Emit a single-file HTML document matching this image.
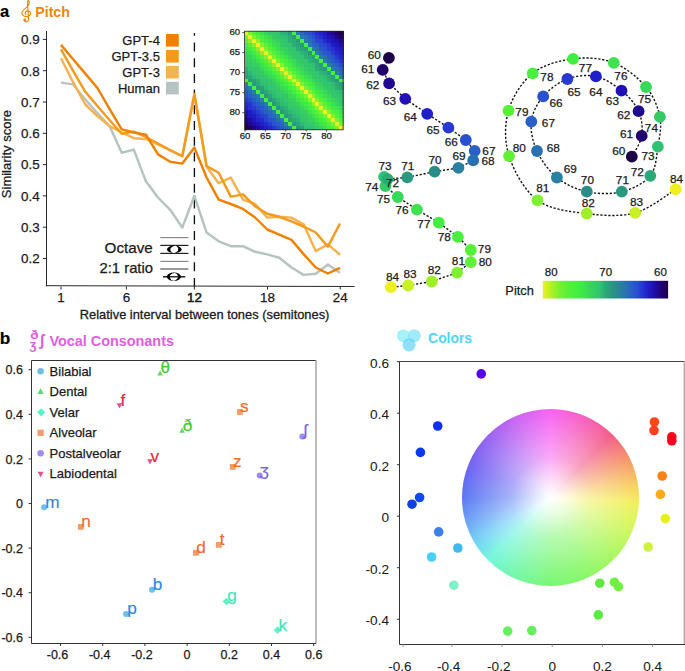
<!DOCTYPE html>
<html><head><meta charset="utf-8"><style>
html,body{margin:0;padding:0;background:#fff;}
body{width:685px;height:671px;position:relative;overflow:hidden;font-family:"Liberation Sans",sans-serif;}
#wheel{position:absolute;left:462.1px;top:409px;width:177px;height:177px;border-radius:50%;
background:radial-gradient(circle closest-side,#fff 0%,rgba(255,255,255,.85) 15%,rgba(255,255,255,.45) 45%,rgba(255,255,255,0) 100%),
conic-gradient(from 0deg,#f862f2 0deg,#f65fb8 25deg,#f25e86 45deg,#f5906a 62deg,#f7c460 78deg,#f3ef5a 93deg,#d4f65b 110deg,#aef760 130deg,#88f766 155deg,#78f772 180deg,#72f7a8 205deg,#72f5dc 225deg,#70d0f6 240deg,#6a9ef6 255deg,#5a78f2 270deg,#6c62f2 290deg,#9a62f2 315deg,#cc62f2 338deg,#f862f2 360deg);}
svg{position:absolute;left:0;top:0;}
</style></head><body>
<div id="wheel"></div>
<svg width="685" height="671" viewBox="0 0 685 671" font-family="Liberation Sans, sans-serif">
<text x="0.0" y="17.0" font-size="16.5" text-anchor="start" fill="#000" stroke="#000" stroke-width="0.2" font-weight="bold" >a</text>
<text x="35.3" y="17.0" font-size="15.4" text-anchor="start" fill="#f0850c" font-weight="bold"  textLength="34.5" lengthAdjust="spacingAndGlyphs">Pitch</text>
<g fill="none" stroke="#f0850c" stroke-width="1.15" stroke-linecap="round"><path d="M24.3 20.6 C25.2 22.4 28.6 22.3 28.5 19.4 L27.5 3.6 C27.4 1.6 28.0 0.3 28.4 0.5 C29.4 1.2 29.7 3.9 27.7 6.4 C24.8 9.2 21.9 10.8 21.9 13.3 C21.9 15.6 24.3 16.6 26.6 16.5 C29.4 16.4 30.8 14.8 30.6 13.0 C30.4 11.3 28.6 10.6 27.2 10.9 C25.3 11.4 24.6 13.4 25.9 14.6"/></g>
<circle cx="24.8" cy="20.0" r="1.45" fill="#f0850c"/>
<line x1="46.5" y1="31" x2="46.5" y2="286.5" stroke="#2a2a2a" stroke-width="1"/>
<line x1="46.5" y1="285.7" x2="354.6" y2="286.5" stroke="#2a2a2a" stroke-width="1"/>
<line x1="42.8" y1="258.5" x2="46.5" y2="258.5" stroke="#2a2a2a" stroke-width="1"/>
<text x="39.7" y="263.3" font-size="13.4" text-anchor="end" fill="#1a1a1a" stroke="#1a1a1a" stroke-width="0.25" font-weight="normal" >0.2</text>
<line x1="42.8" y1="227.2" x2="46.5" y2="227.2" stroke="#2a2a2a" stroke-width="1"/>
<text x="39.7" y="232.0" font-size="13.4" text-anchor="end" fill="#1a1a1a" stroke="#1a1a1a" stroke-width="0.25" font-weight="normal" >0.3</text>
<line x1="42.8" y1="195.9" x2="46.5" y2="195.9" stroke="#2a2a2a" stroke-width="1"/>
<text x="39.7" y="200.7" font-size="13.4" text-anchor="end" fill="#1a1a1a" stroke="#1a1a1a" stroke-width="0.25" font-weight="normal" >0.4</text>
<line x1="42.8" y1="164.6" x2="46.5" y2="164.6" stroke="#2a2a2a" stroke-width="1"/>
<text x="39.7" y="169.4" font-size="13.4" text-anchor="end" fill="#1a1a1a" stroke="#1a1a1a" stroke-width="0.25" font-weight="normal" >0.5</text>
<line x1="42.8" y1="133.3" x2="46.5" y2="133.3" stroke="#2a2a2a" stroke-width="1"/>
<text x="39.7" y="138.1" font-size="13.4" text-anchor="end" fill="#1a1a1a" stroke="#1a1a1a" stroke-width="0.25" font-weight="normal" >0.6</text>
<line x1="42.8" y1="102.0" x2="46.5" y2="102.0" stroke="#2a2a2a" stroke-width="1"/>
<text x="39.7" y="106.8" font-size="13.4" text-anchor="end" fill="#1a1a1a" stroke="#1a1a1a" stroke-width="0.25" font-weight="normal" >0.7</text>
<line x1="42.8" y1="70.7" x2="46.5" y2="70.7" stroke="#2a2a2a" stroke-width="1"/>
<text x="39.7" y="75.5" font-size="13.4" text-anchor="end" fill="#1a1a1a" stroke="#1a1a1a" stroke-width="0.25" font-weight="normal" >0.8</text>
<line x1="42.8" y1="39.4" x2="46.5" y2="39.4" stroke="#2a2a2a" stroke-width="1"/>
<text x="39.7" y="44.2" font-size="13.4" text-anchor="end" fill="#1a1a1a" stroke="#1a1a1a" stroke-width="0.25" font-weight="normal" >0.9</text>
<line x1="61" y1="286.5" x2="61" y2="289.5" stroke="#2a2a2a" stroke-width="1"/>
<text x="61.0" y="302.0" font-size="13.4" text-anchor="middle" fill="#1a1a1a" stroke="#1a1a1a" stroke-width="0.25" font-weight="normal" >1</text>
<line x1="126.4" y1="286.5" x2="126.4" y2="289.5" stroke="#2a2a2a" stroke-width="1"/>
<text x="126.4" y="302.0" font-size="13.4" text-anchor="middle" fill="#1a1a1a" stroke="#1a1a1a" stroke-width="0.25" font-weight="normal" >6</text>
<line x1="194.4" y1="286.5" x2="194.4" y2="289.5" stroke="#2a2a2a" stroke-width="1"/>
<text x="194.4" y="302.0" font-size="13.4" text-anchor="middle" fill="#1a1a1a" stroke="#1a1a1a" stroke-width="0.55" font-weight="normal" >12</text>
<line x1="267.5" y1="286.5" x2="267.5" y2="289.5" stroke="#2a2a2a" stroke-width="1"/>
<text x="267.5" y="302.0" font-size="13.4" text-anchor="middle" fill="#1a1a1a" stroke="#1a1a1a" stroke-width="0.25" font-weight="normal" >18</text>
<line x1="340.2" y1="286.5" x2="340.2" y2="289.5" stroke="#2a2a2a" stroke-width="1"/>
<text x="340.2" y="302.0" font-size="13.4" text-anchor="middle" fill="#1a1a1a" stroke="#1a1a1a" stroke-width="0.25" font-weight="normal" >24</text>
<text x="204.6" y="318.6" font-size="13.4" text-anchor="middle" fill="#1a1a1a" stroke="#1a1a1a" stroke-width="0.3" font-weight="normal"  textLength="249.6" lengthAdjust="spacingAndGlyphs">Relative interval between tones (semitones)</text>
<text x="11.4" y="154.1" font-size="13" text-anchor="middle" fill="#1a1a1a" stroke="#1a1a1a" stroke-width="0.25" transform="rotate(-90 11.4 154.1)">Similarity score</text>
<line x1="160.3" y1="237.6" x2="188.4" y2="237.6" stroke="#8a8a8a" stroke-width="1.2"/>
<line x1="160.3" y1="245.4" x2="188.4" y2="245.4" stroke="#222" stroke-width="1.2"/>
<line x1="160.3" y1="253.4" x2="188.4" y2="253.4" stroke="#222" stroke-width="1.2"/>
<line x1="160.3" y1="261.4" x2="188.4" y2="261.4" stroke="#8a8a8a" stroke-width="1.2"/>
<line x1="160.3" y1="269.0" x2="188.4" y2="269.0" stroke="#555" stroke-width="1.2"/>
<line x1="163" y1="276.8" x2="185.2" y2="276.8" stroke="#111" stroke-width="1.4"/>
<ellipse cx="174.3" cy="249.4" rx="7.3" ry="3.8" fill="#000"/>
<ellipse cx="174.3" cy="249.4" rx="4.0" ry="3.3" fill="#fff" transform="rotate(-25 174.3 249.4)"/>
<ellipse cx="173.9" cy="276.8" rx="7.0" ry="4.2" fill="#000"/>
<ellipse cx="173.9" cy="276.8" rx="4.0" ry="3.7" fill="#fff" transform="rotate(-25 173.9 276.8)"/>
<line x1="169" y1="276.8" x2="179" y2="276.8" stroke="#111" stroke-width="1.3"/>
<text x="152.7" y="252.9" font-size="15.2" text-anchor="end" fill="#1a1a1a" stroke="#1a1a1a" stroke-width="0.25" font-weight="normal" >Octave</text>
<text x="153.0" y="273.0" font-size="14.8" text-anchor="end" fill="#1a1a1a" stroke="#1a1a1a" stroke-width="0.25" font-weight="normal" >2:1 ratio</text>
<line x1="194.4" y1="33" x2="194.4" y2="286.5" stroke="#111" stroke-width="1.35" stroke-dasharray="9 6.7" stroke-dashoffset="6.2"/>
<polyline points="61.0,82.6 73.1,84.4 85.3,99.5 97.4,113.0 109.5,126.0 121.7,152.7 133.8,149.6 145.9,181.2 158.0,197.5 170.2,209.8 182.3,227.6 194.4,195.8 206.6,232.6 218.7,241.3 230.8,246.2 243.0,246.2 255.1,251.8 267.2,254.4 279.3,257.8 291.5,267.5 303.6,274.9 315.7,273.8 327.9,264.5 340.0,272.7" fill="none" stroke="#b6c4c1" stroke-width="2.45" stroke-linejoin="round"/>
<polyline points="61.0,58.3 73.1,82.2 85.3,104.5 97.4,116.0 109.5,126.0 121.7,132.5 133.8,138.2 145.9,139.0 158.0,144.5 170.2,150.5 182.3,156.5 194.4,94.2 206.6,166.8 218.7,183.2 230.8,177.6 243.0,199.6 255.1,204.0 267.2,217.6 279.3,216.8 291.5,217.6 303.6,224.3 315.7,251.1 327.9,244.4 340.0,254.8" fill="none" stroke="#f4b350" stroke-width="2.45" stroke-linejoin="round"/>
<polyline points="61.0,49.4 73.1,70.9 85.3,91.8 97.4,106.0 109.5,120.0 121.7,133.8 133.8,131.6 145.9,137.0 158.0,143.5 170.2,150.0 182.3,156.0 194.4,94.2 206.6,166.1 218.7,172.8 230.8,196.6 243.0,194.4 255.1,206.3 267.2,213.8 279.3,216.8 291.5,221.3 303.6,226.5 315.7,232.5 327.9,246.6 340.0,223.5" fill="none" stroke="#f39b1f" stroke-width="2.45" stroke-linejoin="round"/>
<polyline points="61.0,44.9 73.1,59.2 85.3,73.6 97.4,88.0 109.5,108.9 121.7,129.4 133.8,132.5 145.9,134.7 158.0,154.4 170.2,161.8 182.3,163.6 194.4,147.6 206.6,177.5 218.7,199.6 230.8,204.0 243.0,208.9 255.1,217.5 267.2,229.5 279.3,234.7 291.5,239.9 303.6,254.1 315.7,267.5 327.9,273.5 340.0,267.8" fill="none" stroke="#ef8100" stroke-width="2.45" stroke-linejoin="round"/>
<rect x="166" y="34.0" width="12.8" height="12.6" fill="#ef8100"/>
<text x="159.9" y="44.9" font-size="13" text-anchor="end" fill="#1a1a1a" stroke="#1a1a1a" stroke-width="0.25" font-weight="normal" >GPT-4</text>
<rect x="166" y="50.0" width="12.8" height="12.6" fill="#f39b1f"/>
<text x="159.9" y="60.9" font-size="13" text-anchor="end" fill="#1a1a1a" stroke="#1a1a1a" stroke-width="0.25" font-weight="normal" >GPT-3.5</text>
<rect x="166" y="65.9" width="12.8" height="12.6" fill="#f4b350"/>
<text x="159.9" y="76.8" font-size="13" text-anchor="end" fill="#1a1a1a" stroke="#1a1a1a" stroke-width="0.25" font-weight="normal" >GPT-3</text>
<rect x="166" y="81.8" width="12.8" height="12.6" fill="#b6c4c1"/>
<text x="159.9" y="92.8" font-size="13" text-anchor="end" fill="#1a1a1a" stroke="#1a1a1a" stroke-width="0.25" font-weight="normal" >Human</text>
<g shape-rendering="crispEdges">
<rect x="244.50" y="31.20" width="4.54" height="4.54" fill="#e9f021"/>
<rect x="248.44" y="31.20" width="4.54" height="4.54" fill="#85f02f"/>
<rect x="252.39" y="31.20" width="4.54" height="4.54" fill="#55f039"/>
<rect x="256.33" y="31.20" width="4.54" height="4.54" fill="#41ee40"/>
<rect x="260.28" y="31.20" width="4.54" height="4.54" fill="#3ee14f"/>
<rect x="264.22" y="31.20" width="4.54" height="4.54" fill="#36d25e"/>
<rect x="268.16" y="31.20" width="4.54" height="4.54" fill="#34c869"/>
<rect x="272.11" y="31.20" width="4.54" height="4.54" fill="#34c869"/>
<rect x="276.05" y="31.20" width="4.54" height="4.54" fill="#30c372"/>
<rect x="280.00" y="31.20" width="4.54" height="4.54" fill="#2cb275"/>
<rect x="283.94" y="31.20" width="4.54" height="4.54" fill="#2bb075"/>
<rect x="287.88" y="31.20" width="4.54" height="4.54" fill="#2a9b7f"/>
<rect x="291.83" y="31.20" width="4.54" height="4.54" fill="#46f03e"/>
<rect x="295.77" y="31.20" width="4.54" height="4.54" fill="#2a7ea2"/>
<rect x="299.72" y="31.20" width="4.54" height="4.54" fill="#286db5"/>
<rect x="303.66" y="31.20" width="4.54" height="4.54" fill="#2857cc"/>
<rect x="307.60" y="31.20" width="4.54" height="4.54" fill="#284fd0"/>
<rect x="311.55" y="31.20" width="4.54" height="4.54" fill="#2842d0"/>
<rect x="315.49" y="31.20" width="4.54" height="4.54" fill="#252ecd"/>
<rect x="319.44" y="31.20" width="4.54" height="4.54" fill="#2123c9"/>
<rect x="323.38" y="31.20" width="4.54" height="4.54" fill="#2018c0"/>
<rect x="327.32" y="31.20" width="4.54" height="4.54" fill="#200b9d"/>
<rect x="331.27" y="31.20" width="4.54" height="4.54" fill="#20078c"/>
<rect x="335.21" y="31.20" width="4.54" height="4.54" fill="#200065"/>
<rect x="339.16" y="31.20" width="4.54" height="4.54" fill="#1e0048"/>
<rect x="244.50" y="35.14" width="4.54" height="4.54" fill="#7af031"/>
<rect x="248.44" y="35.14" width="4.54" height="4.54" fill="#f0f020"/>
<rect x="252.39" y="35.14" width="4.54" height="4.54" fill="#83f02f"/>
<rect x="256.33" y="35.14" width="4.54" height="4.54" fill="#58f038"/>
<rect x="260.28" y="35.14" width="4.54" height="4.54" fill="#43ef3f"/>
<rect x="264.22" y="35.14" width="4.54" height="4.54" fill="#3ee24e"/>
<rect x="268.16" y="35.14" width="4.54" height="4.54" fill="#39da56"/>
<rect x="272.11" y="35.14" width="4.54" height="4.54" fill="#35ca66"/>
<rect x="276.05" y="35.14" width="4.54" height="4.54" fill="#33c769"/>
<rect x="280.00" y="35.14" width="4.54" height="4.54" fill="#30c471"/>
<rect x="283.94" y="35.14" width="4.54" height="4.54" fill="#2fbf73"/>
<rect x="287.88" y="35.14" width="4.54" height="4.54" fill="#2bae75"/>
<rect x="291.83" y="35.14" width="4.54" height="4.54" fill="#2a9781"/>
<rect x="295.77" y="35.14" width="4.54" height="4.54" fill="#42ef3f"/>
<rect x="299.72" y="35.14" width="4.54" height="4.54" fill="#297ba5"/>
<rect x="303.66" y="35.14" width="4.54" height="4.54" fill="#2870b0"/>
<rect x="307.60" y="35.14" width="4.54" height="4.54" fill="#285bcb"/>
<rect x="311.55" y="35.14" width="4.54" height="4.54" fill="#284fd0"/>
<rect x="315.49" y="35.14" width="4.54" height="4.54" fill="#2839d0"/>
<rect x="319.44" y="35.14" width="4.54" height="4.54" fill="#252ecd"/>
<rect x="323.38" y="35.14" width="4.54" height="4.54" fill="#201ec6"/>
<rect x="327.32" y="35.14" width="4.54" height="4.54" fill="#2014bc"/>
<rect x="331.27" y="35.14" width="4.54" height="4.54" fill="#200eac"/>
<rect x="335.21" y="35.14" width="4.54" height="4.54" fill="#200687"/>
<rect x="339.16" y="35.14" width="4.54" height="4.54" fill="#20006e"/>
<rect x="244.50" y="39.09" width="4.54" height="4.54" fill="#58f038"/>
<rect x="248.44" y="39.09" width="4.54" height="4.54" fill="#8ef02d"/>
<rect x="252.39" y="39.09" width="4.54" height="4.54" fill="#f0f020"/>
<rect x="256.33" y="39.09" width="4.54" height="4.54" fill="#8ff02c"/>
<rect x="260.28" y="39.09" width="4.54" height="4.54" fill="#57f038"/>
<rect x="264.22" y="39.09" width="4.54" height="4.54" fill="#40ec43"/>
<rect x="268.16" y="39.09" width="4.54" height="4.54" fill="#3ee34d"/>
<rect x="272.11" y="39.09" width="4.54" height="4.54" fill="#39da56"/>
<rect x="276.05" y="39.09" width="4.54" height="4.54" fill="#36d060"/>
<rect x="280.00" y="39.09" width="4.54" height="4.54" fill="#33c76b"/>
<rect x="283.94" y="39.09" width="4.54" height="4.54" fill="#31c56f"/>
<rect x="287.88" y="39.09" width="4.54" height="4.54" fill="#2cb175"/>
<rect x="291.83" y="39.09" width="4.54" height="4.54" fill="#2bad76"/>
<rect x="295.77" y="39.09" width="4.54" height="4.54" fill="#2a9c7e"/>
<rect x="299.72" y="39.09" width="4.54" height="4.54" fill="#43ef3f"/>
<rect x="303.66" y="39.09" width="4.54" height="4.54" fill="#2979a7"/>
<rect x="307.60" y="39.09" width="4.54" height="4.54" fill="#286fb1"/>
<rect x="311.55" y="39.09" width="4.54" height="4.54" fill="#2861c6"/>
<rect x="315.49" y="39.09" width="4.54" height="4.54" fill="#2846d0"/>
<rect x="319.44" y="39.09" width="4.54" height="4.54" fill="#2841d0"/>
<rect x="323.38" y="39.09" width="4.54" height="4.54" fill="#242ccc"/>
<rect x="327.32" y="39.09" width="4.54" height="4.54" fill="#201bc3"/>
<rect x="331.27" y="39.09" width="4.54" height="4.54" fill="#2013bb"/>
<rect x="335.21" y="39.09" width="4.54" height="4.54" fill="#200fb1"/>
<rect x="339.16" y="39.09" width="4.54" height="4.54" fill="#20088e"/>
<rect x="244.50" y="43.03" width="4.54" height="4.54" fill="#3feb44"/>
<rect x="248.44" y="43.03" width="4.54" height="4.54" fill="#57f038"/>
<rect x="252.39" y="43.03" width="4.54" height="4.54" fill="#7af031"/>
<rect x="256.33" y="43.03" width="4.54" height="4.54" fill="#f0f020"/>
<rect x="260.28" y="43.03" width="4.54" height="4.54" fill="#80f030"/>
<rect x="264.22" y="43.03" width="4.54" height="4.54" fill="#59f037"/>
<rect x="268.16" y="43.03" width="4.54" height="4.54" fill="#43ef3f"/>
<rect x="272.11" y="43.03" width="4.54" height="4.54" fill="#3de050"/>
<rect x="276.05" y="43.03" width="4.54" height="4.54" fill="#39da56"/>
<rect x="280.00" y="43.03" width="4.54" height="4.54" fill="#34ca66"/>
<rect x="283.94" y="43.03" width="4.54" height="4.54" fill="#31c56f"/>
<rect x="287.88" y="43.03" width="4.54" height="4.54" fill="#31c570"/>
<rect x="291.83" y="43.03" width="4.54" height="4.54" fill="#2bae75"/>
<rect x="295.77" y="43.03" width="4.54" height="4.54" fill="#2aa479"/>
<rect x="299.72" y="43.03" width="4.54" height="4.54" fill="#2a9a7f"/>
<rect x="303.66" y="43.03" width="4.54" height="4.54" fill="#45ef3f"/>
<rect x="307.60" y="43.03" width="4.54" height="4.54" fill="#297aa6"/>
<rect x="311.55" y="43.03" width="4.54" height="4.54" fill="#2866c0"/>
<rect x="315.49" y="43.03" width="4.54" height="4.54" fill="#2860c8"/>
<rect x="319.44" y="43.03" width="4.54" height="4.54" fill="#284ad0"/>
<rect x="323.38" y="43.03" width="4.54" height="4.54" fill="#2844d0"/>
<rect x="327.32" y="43.03" width="4.54" height="4.54" fill="#2734cf"/>
<rect x="331.27" y="43.03" width="4.54" height="4.54" fill="#201ec6"/>
<rect x="335.21" y="43.03" width="4.54" height="4.54" fill="#2015bd"/>
<rect x="339.16" y="43.03" width="4.54" height="4.54" fill="#200daa"/>
<rect x="244.50" y="46.98" width="4.54" height="4.54" fill="#3ee14f"/>
<rect x="248.44" y="46.98" width="4.54" height="4.54" fill="#41ee40"/>
<rect x="252.39" y="46.98" width="4.54" height="4.54" fill="#56f038"/>
<rect x="256.33" y="46.98" width="4.54" height="4.54" fill="#87f02e"/>
<rect x="260.28" y="46.98" width="4.54" height="4.54" fill="#f0f020"/>
<rect x="264.22" y="46.98" width="4.54" height="4.54" fill="#84f02f"/>
<rect x="268.16" y="46.98" width="4.54" height="4.54" fill="#55f038"/>
<rect x="272.11" y="46.98" width="4.54" height="4.54" fill="#42ee40"/>
<rect x="276.05" y="46.98" width="4.54" height="4.54" fill="#3cde52"/>
<rect x="280.00" y="46.98" width="4.54" height="4.54" fill="#37d45c"/>
<rect x="283.94" y="46.98" width="4.54" height="4.54" fill="#36d15f"/>
<rect x="287.88" y="46.98" width="4.54" height="4.54" fill="#33c76c"/>
<rect x="291.83" y="46.98" width="4.54" height="4.54" fill="#31c570"/>
<rect x="295.77" y="46.98" width="4.54" height="4.54" fill="#2bad75"/>
<rect x="299.72" y="46.98" width="4.54" height="4.54" fill="#2aa778"/>
<rect x="303.66" y="46.98" width="4.54" height="4.54" fill="#2a9c7e"/>
<rect x="307.60" y="46.98" width="4.54" height="4.54" fill="#41ee40"/>
<rect x="311.55" y="46.98" width="4.54" height="4.54" fill="#2a7fa1"/>
<rect x="315.49" y="46.98" width="4.54" height="4.54" fill="#286cb5"/>
<rect x="319.44" y="46.98" width="4.54" height="4.54" fill="#2856cd"/>
<rect x="323.38" y="46.98" width="4.54" height="4.54" fill="#284fd0"/>
<rect x="327.32" y="46.98" width="4.54" height="4.54" fill="#283bd0"/>
<rect x="331.27" y="46.98" width="4.54" height="4.54" fill="#2631ce"/>
<rect x="335.21" y="46.98" width="4.54" height="4.54" fill="#201ec6"/>
<rect x="339.16" y="46.98" width="4.54" height="4.54" fill="#2018c0"/>
<rect x="244.50" y="50.92" width="4.54" height="4.54" fill="#38d957"/>
<rect x="248.44" y="50.92" width="4.54" height="4.54" fill="#3bdd53"/>
<rect x="252.39" y="50.92" width="4.54" height="4.54" fill="#3feb44"/>
<rect x="256.33" y="50.92" width="4.54" height="4.54" fill="#57f038"/>
<rect x="260.28" y="50.92" width="4.54" height="4.54" fill="#8ef02c"/>
<rect x="264.22" y="50.92" width="4.54" height="4.54" fill="#e9f021"/>
<rect x="268.16" y="50.92" width="4.54" height="4.54" fill="#83f02f"/>
<rect x="272.11" y="50.92" width="4.54" height="4.54" fill="#57f038"/>
<rect x="276.05" y="50.92" width="4.54" height="4.54" fill="#40ed41"/>
<rect x="280.00" y="50.92" width="4.54" height="4.54" fill="#3cdf51"/>
<rect x="283.94" y="50.92" width="4.54" height="4.54" fill="#37d45c"/>
<rect x="287.88" y="50.92" width="4.54" height="4.54" fill="#35ca66"/>
<rect x="291.83" y="50.92" width="4.54" height="4.54" fill="#33c76b"/>
<rect x="295.77" y="50.92" width="4.54" height="4.54" fill="#30c372"/>
<rect x="299.72" y="50.92" width="4.54" height="4.54" fill="#2cb574"/>
<rect x="303.66" y="50.92" width="4.54" height="4.54" fill="#2aac76"/>
<rect x="307.60" y="50.92" width="4.54" height="4.54" fill="#2a9681"/>
<rect x="311.55" y="50.92" width="4.54" height="4.54" fill="#45ef3f"/>
<rect x="315.49" y="50.92" width="4.54" height="4.54" fill="#2a819f"/>
<rect x="319.44" y="50.92" width="4.54" height="4.54" fill="#2869bb"/>
<rect x="323.38" y="50.92" width="4.54" height="4.54" fill="#2858cc"/>
<rect x="327.32" y="50.92" width="4.54" height="4.54" fill="#2852cf"/>
<rect x="331.27" y="50.92" width="4.54" height="4.54" fill="#2838d0"/>
<rect x="335.21" y="50.92" width="4.54" height="4.54" fill="#2328cb"/>
<rect x="339.16" y="50.92" width="4.54" height="4.54" fill="#201ec6"/>
<rect x="244.50" y="54.86" width="4.54" height="4.54" fill="#35ce62"/>
<rect x="248.44" y="54.86" width="4.54" height="4.54" fill="#36d25e"/>
<rect x="252.39" y="54.86" width="4.54" height="4.54" fill="#3cdf51"/>
<rect x="256.33" y="54.86" width="4.54" height="4.54" fill="#40ed41"/>
<rect x="260.28" y="54.86" width="4.54" height="4.54" fill="#59f038"/>
<rect x="264.22" y="54.86" width="4.54" height="4.54" fill="#82f02f"/>
<rect x="268.16" y="54.86" width="4.54" height="4.54" fill="#f0f020"/>
<rect x="272.11" y="54.86" width="4.54" height="4.54" fill="#7cf031"/>
<rect x="276.05" y="54.86" width="4.54" height="4.54" fill="#54f039"/>
<rect x="280.00" y="54.86" width="4.54" height="4.54" fill="#41ee40"/>
<rect x="283.94" y="54.86" width="4.54" height="4.54" fill="#3ee34c"/>
<rect x="287.88" y="54.86" width="4.54" height="4.54" fill="#37d65a"/>
<rect x="291.83" y="54.86" width="4.54" height="4.54" fill="#34c967"/>
<rect x="295.77" y="54.86" width="4.54" height="4.54" fill="#31c56f"/>
<rect x="299.72" y="54.86" width="4.54" height="4.54" fill="#31c571"/>
<rect x="303.66" y="54.86" width="4.54" height="4.54" fill="#2cb175"/>
<rect x="307.60" y="54.86" width="4.54" height="4.54" fill="#2bad76"/>
<rect x="311.55" y="54.86" width="4.54" height="4.54" fill="#2a9f7c"/>
<rect x="315.49" y="54.86" width="4.54" height="4.54" fill="#42ef3f"/>
<rect x="319.44" y="54.86" width="4.54" height="4.54" fill="#297ca4"/>
<rect x="323.38" y="54.86" width="4.54" height="4.54" fill="#286fb2"/>
<rect x="327.32" y="54.86" width="4.54" height="4.54" fill="#285dc9"/>
<rect x="331.27" y="54.86" width="4.54" height="4.54" fill="#2852cf"/>
<rect x="335.21" y="54.86" width="4.54" height="4.54" fill="#2839d0"/>
<rect x="339.16" y="54.86" width="4.54" height="4.54" fill="#2227ca"/>
<rect x="244.50" y="58.81" width="4.54" height="4.54" fill="#32c66d"/>
<rect x="248.44" y="58.81" width="4.54" height="4.54" fill="#36cf61"/>
<rect x="252.39" y="58.81" width="4.54" height="4.54" fill="#37d45c"/>
<rect x="256.33" y="58.81" width="4.54" height="4.54" fill="#3cdf51"/>
<rect x="260.28" y="58.81" width="4.54" height="4.54" fill="#40ee40"/>
<rect x="264.22" y="58.81" width="4.54" height="4.54" fill="#55f038"/>
<rect x="268.16" y="58.81" width="4.54" height="4.54" fill="#82f030"/>
<rect x="272.11" y="58.81" width="4.54" height="4.54" fill="#f0f020"/>
<rect x="276.05" y="58.81" width="4.54" height="4.54" fill="#7cf031"/>
<rect x="280.00" y="58.81" width="4.54" height="4.54" fill="#51f03a"/>
<rect x="283.94" y="58.81" width="4.54" height="4.54" fill="#43ef3f"/>
<rect x="287.88" y="58.81" width="4.54" height="4.54" fill="#3ee34c"/>
<rect x="291.83" y="58.81" width="4.54" height="4.54" fill="#39da56"/>
<rect x="295.77" y="58.81" width="4.54" height="4.54" fill="#35cb65"/>
<rect x="299.72" y="58.81" width="4.54" height="4.54" fill="#34c868"/>
<rect x="303.66" y="58.81" width="4.54" height="4.54" fill="#32c66e"/>
<rect x="307.60" y="58.81" width="4.54" height="4.54" fill="#2cb275"/>
<rect x="311.55" y="58.81" width="4.54" height="4.54" fill="#2aac76"/>
<rect x="315.49" y="58.81" width="4.54" height="4.54" fill="#2a9f7c"/>
<rect x="319.44" y="58.81" width="4.54" height="4.54" fill="#45ef3f"/>
<rect x="323.38" y="58.81" width="4.54" height="4.54" fill="#2a7ea2"/>
<rect x="327.32" y="58.81" width="4.54" height="4.54" fill="#2868bb"/>
<rect x="331.27" y="58.81" width="4.54" height="4.54" fill="#285acb"/>
<rect x="335.21" y="58.81" width="4.54" height="4.54" fill="#2848d0"/>
<rect x="339.16" y="58.81" width="4.54" height="4.54" fill="#2735cf"/>
<rect x="244.50" y="62.75" width="4.54" height="4.54" fill="#31c570"/>
<rect x="248.44" y="62.75" width="4.54" height="4.54" fill="#32c66d"/>
<rect x="252.39" y="62.75" width="4.54" height="4.54" fill="#36cf61"/>
<rect x="256.33" y="62.75" width="4.54" height="4.54" fill="#36d15f"/>
<rect x="260.28" y="62.75" width="4.54" height="4.54" fill="#3ee34c"/>
<rect x="264.22" y="62.75" width="4.54" height="4.54" fill="#41ee40"/>
<rect x="268.16" y="62.75" width="4.54" height="4.54" fill="#5af037"/>
<rect x="272.11" y="62.75" width="4.54" height="4.54" fill="#8df02d"/>
<rect x="276.05" y="62.75" width="4.54" height="4.54" fill="#f0f020"/>
<rect x="280.00" y="62.75" width="4.54" height="4.54" fill="#86f02f"/>
<rect x="283.94" y="62.75" width="4.54" height="4.54" fill="#51f03a"/>
<rect x="287.88" y="62.75" width="4.54" height="4.54" fill="#42ee40"/>
<rect x="291.83" y="62.75" width="4.54" height="4.54" fill="#3cde52"/>
<rect x="295.77" y="62.75" width="4.54" height="4.54" fill="#37d45c"/>
<rect x="299.72" y="62.75" width="4.54" height="4.54" fill="#35cd63"/>
<rect x="303.66" y="62.75" width="4.54" height="4.54" fill="#33c76c"/>
<rect x="307.60" y="62.75" width="4.54" height="4.54" fill="#30c471"/>
<rect x="311.55" y="62.75" width="4.54" height="4.54" fill="#2fc073"/>
<rect x="315.49" y="62.75" width="4.54" height="4.54" fill="#2aa976"/>
<rect x="319.44" y="62.75" width="4.54" height="4.54" fill="#2a997f"/>
<rect x="323.38" y="62.75" width="4.54" height="4.54" fill="#43ef3f"/>
<rect x="327.32" y="62.75" width="4.54" height="4.54" fill="#2a829d"/>
<rect x="331.27" y="62.75" width="4.54" height="4.54" fill="#286bb8"/>
<rect x="335.21" y="62.75" width="4.54" height="4.54" fill="#285fc9"/>
<rect x="339.16" y="62.75" width="4.54" height="4.54" fill="#284bd0"/>
<rect x="244.50" y="66.70" width="4.54" height="4.54" fill="#2cb175"/>
<rect x="248.44" y="66.70" width="4.54" height="4.54" fill="#31c570"/>
<rect x="252.39" y="66.70" width="4.54" height="4.54" fill="#33c769"/>
<rect x="256.33" y="66.70" width="4.54" height="4.54" fill="#34c868"/>
<rect x="260.28" y="66.70" width="4.54" height="4.54" fill="#39d957"/>
<rect x="264.22" y="66.70" width="4.54" height="4.54" fill="#3ee44c"/>
<rect x="268.16" y="66.70" width="4.54" height="4.54" fill="#42ef3f"/>
<rect x="272.11" y="66.70" width="4.54" height="4.54" fill="#59f038"/>
<rect x="276.05" y="66.70" width="4.54" height="4.54" fill="#79f031"/>
<rect x="280.00" y="66.70" width="4.54" height="4.54" fill="#f0f020"/>
<rect x="283.94" y="66.70" width="4.54" height="4.54" fill="#8cf02d"/>
<rect x="287.88" y="66.70" width="4.54" height="4.54" fill="#51f03a"/>
<rect x="291.83" y="66.70" width="4.54" height="4.54" fill="#40ed42"/>
<rect x="295.77" y="66.70" width="4.54" height="4.54" fill="#3cdf51"/>
<rect x="299.72" y="66.70" width="4.54" height="4.54" fill="#38d759"/>
<rect x="303.66" y="66.70" width="4.54" height="4.54" fill="#35cb65"/>
<rect x="307.60" y="66.70" width="4.54" height="4.54" fill="#32c66c"/>
<rect x="311.55" y="66.70" width="4.54" height="4.54" fill="#31c56f"/>
<rect x="315.49" y="66.70" width="4.54" height="4.54" fill="#2bad75"/>
<rect x="319.44" y="66.70" width="4.54" height="4.54" fill="#2aa27a"/>
<rect x="323.38" y="66.70" width="4.54" height="4.54" fill="#2a9781"/>
<rect x="327.32" y="66.70" width="4.54" height="4.54" fill="#42ef3f"/>
<rect x="331.27" y="66.70" width="4.54" height="4.54" fill="#2979a7"/>
<rect x="335.21" y="66.70" width="4.54" height="4.54" fill="#2870b0"/>
<rect x="339.16" y="66.70" width="4.54" height="4.54" fill="#285fc8"/>
<rect x="244.50" y="70.64" width="4.54" height="4.54" fill="#2aa37a"/>
<rect x="248.44" y="70.64" width="4.54" height="4.54" fill="#2db774"/>
<rect x="252.39" y="70.64" width="4.54" height="4.54" fill="#30c472"/>
<rect x="256.33" y="70.64" width="4.54" height="4.54" fill="#32c66d"/>
<rect x="260.28" y="70.64" width="4.54" height="4.54" fill="#34ca66"/>
<rect x="264.22" y="70.64" width="4.54" height="4.54" fill="#38d858"/>
<rect x="268.16" y="70.64" width="4.54" height="4.54" fill="#3de14f"/>
<rect x="272.11" y="70.64" width="4.54" height="4.54" fill="#40ed41"/>
<rect x="276.05" y="70.64" width="4.54" height="4.54" fill="#53f039"/>
<rect x="280.00" y="70.64" width="4.54" height="4.54" fill="#80f030"/>
<rect x="283.94" y="70.64" width="4.54" height="4.54" fill="#e5f021"/>
<rect x="287.88" y="70.64" width="4.54" height="4.54" fill="#85f02f"/>
<rect x="291.83" y="70.64" width="4.54" height="4.54" fill="#58f038"/>
<rect x="295.77" y="70.64" width="4.54" height="4.54" fill="#40ee41"/>
<rect x="299.72" y="70.64" width="4.54" height="4.54" fill="#3bdd53"/>
<rect x="303.66" y="70.64" width="4.54" height="4.54" fill="#37d35d"/>
<rect x="307.60" y="70.64" width="4.54" height="4.54" fill="#35ca66"/>
<rect x="311.55" y="70.64" width="4.54" height="4.54" fill="#33c76b"/>
<rect x="315.49" y="70.64" width="4.54" height="4.54" fill="#31c56f"/>
<rect x="319.44" y="70.64" width="4.54" height="4.54" fill="#2cb574"/>
<rect x="323.38" y="70.64" width="4.54" height="4.54" fill="#2bad76"/>
<rect x="327.32" y="70.64" width="4.54" height="4.54" fill="#2a9d7d"/>
<rect x="331.27" y="70.64" width="4.54" height="4.54" fill="#44ef3f"/>
<rect x="335.21" y="70.64" width="4.54" height="4.54" fill="#2a7da3"/>
<rect x="339.16" y="70.64" width="4.54" height="4.54" fill="#286bb8"/>
<rect x="244.50" y="74.58" width="4.54" height="4.54" fill="#2a9e7d"/>
<rect x="248.44" y="74.58" width="4.54" height="4.54" fill="#2aa778"/>
<rect x="252.39" y="74.58" width="4.54" height="4.54" fill="#2ebb73"/>
<rect x="256.33" y="74.58" width="4.54" height="4.54" fill="#30c471"/>
<rect x="260.28" y="74.58" width="4.54" height="4.54" fill="#32c66e"/>
<rect x="264.22" y="74.58" width="4.54" height="4.54" fill="#35cc64"/>
<rect x="268.16" y="74.58" width="4.54" height="4.54" fill="#38d858"/>
<rect x="272.11" y="74.58" width="4.54" height="4.54" fill="#3bdd53"/>
<rect x="276.05" y="74.58" width="4.54" height="4.54" fill="#40ee40"/>
<rect x="280.00" y="74.58" width="4.54" height="4.54" fill="#55f038"/>
<rect x="283.94" y="74.58" width="4.54" height="4.54" fill="#8cf02d"/>
<rect x="287.88" y="74.58" width="4.54" height="4.54" fill="#f0f020"/>
<rect x="291.83" y="74.58" width="4.54" height="4.54" fill="#81f030"/>
<rect x="295.77" y="74.58" width="4.54" height="4.54" fill="#59f037"/>
<rect x="299.72" y="74.58" width="4.54" height="4.54" fill="#42ef3f"/>
<rect x="303.66" y="74.58" width="4.54" height="4.54" fill="#3cdf51"/>
<rect x="307.60" y="74.58" width="4.54" height="4.54" fill="#37d65a"/>
<rect x="311.55" y="74.58" width="4.54" height="4.54" fill="#34c868"/>
<rect x="315.49" y="74.58" width="4.54" height="4.54" fill="#33c769"/>
<rect x="319.44" y="74.58" width="4.54" height="4.54" fill="#31c570"/>
<rect x="323.38" y="74.58" width="4.54" height="4.54" fill="#2fbf73"/>
<rect x="327.32" y="74.58" width="4.54" height="4.54" fill="#2bac76"/>
<rect x="331.27" y="74.58" width="4.54" height="4.54" fill="#2a9d7d"/>
<rect x="335.21" y="74.58" width="4.54" height="4.54" fill="#46ef3f"/>
<rect x="339.16" y="74.58" width="4.54" height="4.54" fill="#2a7fa1"/>
<rect x="244.50" y="78.53" width="4.54" height="4.54" fill="#42ee40"/>
<rect x="248.44" y="78.53" width="4.54" height="4.54" fill="#2a9c7e"/>
<rect x="252.39" y="78.53" width="4.54" height="4.54" fill="#2aa17b"/>
<rect x="256.33" y="78.53" width="4.54" height="4.54" fill="#2bb075"/>
<rect x="260.28" y="78.53" width="4.54" height="4.54" fill="#31c56f"/>
<rect x="264.22" y="78.53" width="4.54" height="4.54" fill="#31c56f"/>
<rect x="268.16" y="78.53" width="4.54" height="4.54" fill="#34c869"/>
<rect x="272.11" y="78.53" width="4.54" height="4.54" fill="#36d25e"/>
<rect x="276.05" y="78.53" width="4.54" height="4.54" fill="#3ee34c"/>
<rect x="280.00" y="78.53" width="4.54" height="4.54" fill="#40ec43"/>
<rect x="283.94" y="78.53" width="4.54" height="4.54" fill="#51f03a"/>
<rect x="287.88" y="78.53" width="4.54" height="4.54" fill="#8cf02d"/>
<rect x="291.83" y="78.53" width="4.54" height="4.54" fill="#e5f021"/>
<rect x="295.77" y="78.53" width="4.54" height="4.54" fill="#8cf02d"/>
<rect x="299.72" y="78.53" width="4.54" height="4.54" fill="#57f038"/>
<rect x="303.66" y="78.53" width="4.54" height="4.54" fill="#42ef3f"/>
<rect x="307.60" y="78.53" width="4.54" height="4.54" fill="#3ee44c"/>
<rect x="311.55" y="78.53" width="4.54" height="4.54" fill="#38d759"/>
<rect x="315.49" y="78.53" width="4.54" height="4.54" fill="#36cf61"/>
<rect x="319.44" y="78.53" width="4.54" height="4.54" fill="#31c56f"/>
<rect x="323.38" y="78.53" width="4.54" height="4.54" fill="#31c56f"/>
<rect x="327.32" y="78.53" width="4.54" height="4.54" fill="#2db774"/>
<rect x="331.27" y="78.53" width="4.54" height="4.54" fill="#2aab76"/>
<rect x="335.21" y="78.53" width="4.54" height="4.54" fill="#2a9781"/>
<rect x="339.16" y="78.53" width="4.54" height="4.54" fill="#46ef3f"/>
<rect x="244.50" y="82.47" width="4.54" height="4.54" fill="#2a829b"/>
<rect x="248.44" y="82.47" width="4.54" height="4.54" fill="#42ee40"/>
<rect x="252.39" y="82.47" width="4.54" height="4.54" fill="#2a9980"/>
<rect x="256.33" y="82.47" width="4.54" height="4.54" fill="#2aa977"/>
<rect x="260.28" y="82.47" width="4.54" height="4.54" fill="#2ebd73"/>
<rect x="264.22" y="82.47" width="4.54" height="4.54" fill="#30c272"/>
<rect x="268.16" y="82.47" width="4.54" height="4.54" fill="#32c66e"/>
<rect x="272.11" y="82.47" width="4.54" height="4.54" fill="#34c967"/>
<rect x="276.05" y="82.47" width="4.54" height="4.54" fill="#38d759"/>
<rect x="280.00" y="82.47" width="4.54" height="4.54" fill="#3ee24e"/>
<rect x="283.94" y="82.47" width="4.54" height="4.54" fill="#40ee40"/>
<rect x="287.88" y="82.47" width="4.54" height="4.54" fill="#55f039"/>
<rect x="291.83" y="82.47" width="4.54" height="4.54" fill="#81f030"/>
<rect x="295.77" y="82.47" width="4.54" height="4.54" fill="#ecf020"/>
<rect x="299.72" y="82.47" width="4.54" height="4.54" fill="#82f030"/>
<rect x="303.66" y="82.47" width="4.54" height="4.54" fill="#52f03a"/>
<rect x="307.60" y="82.47" width="4.54" height="4.54" fill="#40ee40"/>
<rect x="311.55" y="82.47" width="4.54" height="4.54" fill="#3ee44c"/>
<rect x="315.49" y="82.47" width="4.54" height="4.54" fill="#37d55b"/>
<rect x="319.44" y="82.47" width="4.54" height="4.54" fill="#36ce62"/>
<rect x="323.38" y="82.47" width="4.54" height="4.54" fill="#31c56e"/>
<rect x="327.32" y="82.47" width="4.54" height="4.54" fill="#31c56f"/>
<rect x="331.27" y="82.47" width="4.54" height="4.54" fill="#2ebc73"/>
<rect x="335.21" y="82.47" width="4.54" height="4.54" fill="#2aaa76"/>
<rect x="339.16" y="82.47" width="4.54" height="4.54" fill="#2a9b7e"/>
<rect x="244.50" y="86.42" width="4.54" height="4.54" fill="#286bb8"/>
<rect x="248.44" y="86.42" width="4.54" height="4.54" fill="#2a80a0"/>
<rect x="252.39" y="86.42" width="4.54" height="4.54" fill="#46f03e"/>
<rect x="256.33" y="86.42" width="4.54" height="4.54" fill="#2a9781"/>
<rect x="260.28" y="86.42" width="4.54" height="4.54" fill="#2aa37a"/>
<rect x="264.22" y="86.42" width="4.54" height="4.54" fill="#2ebc73"/>
<rect x="268.16" y="86.42" width="4.54" height="4.54" fill="#32c66e"/>
<rect x="272.11" y="86.42" width="4.54" height="4.54" fill="#33c76c"/>
<rect x="276.05" y="86.42" width="4.54" height="4.54" fill="#35cb65"/>
<rect x="280.00" y="86.42" width="4.54" height="4.54" fill="#38d858"/>
<rect x="283.94" y="86.42" width="4.54" height="4.54" fill="#3cde52"/>
<rect x="287.88" y="86.42" width="4.54" height="4.54" fill="#40ed42"/>
<rect x="291.83" y="86.42" width="4.54" height="4.54" fill="#53f039"/>
<rect x="295.77" y="86.42" width="4.54" height="4.54" fill="#86f02f"/>
<rect x="299.72" y="86.42" width="4.54" height="4.54" fill="#ebf021"/>
<rect x="303.66" y="86.42" width="4.54" height="4.54" fill="#7ef030"/>
<rect x="307.60" y="86.42" width="4.54" height="4.54" fill="#58f038"/>
<rect x="311.55" y="86.42" width="4.54" height="4.54" fill="#43ef3f"/>
<rect x="315.49" y="86.42" width="4.54" height="4.54" fill="#3cdf51"/>
<rect x="319.44" y="86.42" width="4.54" height="4.54" fill="#38d858"/>
<rect x="323.38" y="86.42" width="4.54" height="4.54" fill="#35cb65"/>
<rect x="327.32" y="86.42" width="4.54" height="4.54" fill="#34c869"/>
<rect x="331.27" y="86.42" width="4.54" height="4.54" fill="#31c570"/>
<rect x="335.21" y="86.42" width="4.54" height="4.54" fill="#2cb275"/>
<rect x="339.16" y="86.42" width="4.54" height="4.54" fill="#2aa479"/>
<rect x="244.50" y="90.36" width="4.54" height="4.54" fill="#2856cd"/>
<rect x="248.44" y="90.36" width="4.54" height="4.54" fill="#286bb8"/>
<rect x="252.39" y="90.36" width="4.54" height="4.54" fill="#2a7da3"/>
<rect x="256.33" y="90.36" width="4.54" height="4.54" fill="#42ef3f"/>
<rect x="260.28" y="90.36" width="4.54" height="4.54" fill="#2a997f"/>
<rect x="264.22" y="90.36" width="4.54" height="4.54" fill="#2aa678"/>
<rect x="268.16" y="90.36" width="4.54" height="4.54" fill="#2ebc73"/>
<rect x="272.11" y="90.36" width="4.54" height="4.54" fill="#2fc073"/>
<rect x="276.05" y="90.36" width="4.54" height="4.54" fill="#34c868"/>
<rect x="280.00" y="90.36" width="4.54" height="4.54" fill="#35cb65"/>
<rect x="283.94" y="90.36" width="4.54" height="4.54" fill="#38d759"/>
<rect x="287.88" y="90.36" width="4.54" height="4.54" fill="#3de050"/>
<rect x="291.83" y="90.36" width="4.54" height="4.54" fill="#42ef3f"/>
<rect x="295.77" y="90.36" width="4.54" height="4.54" fill="#59f038"/>
<rect x="299.72" y="90.36" width="4.54" height="4.54" fill="#85f02f"/>
<rect x="303.66" y="90.36" width="4.54" height="4.54" fill="#eff020"/>
<rect x="307.60" y="90.36" width="4.54" height="4.54" fill="#89f02e"/>
<rect x="311.55" y="90.36" width="4.54" height="4.54" fill="#59f038"/>
<rect x="315.49" y="90.36" width="4.54" height="4.54" fill="#40ee40"/>
<rect x="319.44" y="90.36" width="4.54" height="4.54" fill="#3ee24e"/>
<rect x="323.38" y="90.36" width="4.54" height="4.54" fill="#39da56"/>
<rect x="327.32" y="90.36" width="4.54" height="4.54" fill="#35cb65"/>
<rect x="331.27" y="90.36" width="4.54" height="4.54" fill="#32c66e"/>
<rect x="335.21" y="90.36" width="4.54" height="4.54" fill="#30c272"/>
<rect x="339.16" y="90.36" width="4.54" height="4.54" fill="#2ebb73"/>
<rect x="244.50" y="94.30" width="4.54" height="4.54" fill="#2850d0"/>
<rect x="248.44" y="94.30" width="4.54" height="4.54" fill="#2861c7"/>
<rect x="252.39" y="94.30" width="4.54" height="4.54" fill="#286fb1"/>
<rect x="256.33" y="94.30" width="4.54" height="4.54" fill="#297ba5"/>
<rect x="260.28" y="94.30" width="4.54" height="4.54" fill="#42ef3f"/>
<rect x="264.22" y="94.30" width="4.54" height="4.54" fill="#2a9880"/>
<rect x="268.16" y="94.30" width="4.54" height="4.54" fill="#2aa479"/>
<rect x="272.11" y="94.30" width="4.54" height="4.54" fill="#2ebb73"/>
<rect x="276.05" y="94.30" width="4.54" height="4.54" fill="#32c66e"/>
<rect x="280.00" y="94.30" width="4.54" height="4.54" fill="#34c869"/>
<rect x="283.94" y="94.30" width="4.54" height="4.54" fill="#34c967"/>
<rect x="287.88" y="94.30" width="4.54" height="4.54" fill="#39d957"/>
<rect x="291.83" y="94.30" width="4.54" height="4.54" fill="#3cdf51"/>
<rect x="295.77" y="94.30" width="4.54" height="4.54" fill="#40ee40"/>
<rect x="299.72" y="94.30" width="4.54" height="4.54" fill="#58f038"/>
<rect x="303.66" y="94.30" width="4.54" height="4.54" fill="#7bf031"/>
<rect x="307.60" y="94.30" width="4.54" height="4.54" fill="#e4f021"/>
<rect x="311.55" y="94.30" width="4.54" height="4.54" fill="#8bf02d"/>
<rect x="315.49" y="94.30" width="4.54" height="4.54" fill="#54f039"/>
<rect x="319.44" y="94.30" width="4.54" height="4.54" fill="#40ed41"/>
<rect x="323.38" y="94.30" width="4.54" height="4.54" fill="#3de14f"/>
<rect x="327.32" y="94.30" width="4.54" height="4.54" fill="#38d858"/>
<rect x="331.27" y="94.30" width="4.54" height="4.54" fill="#34c869"/>
<rect x="335.21" y="94.30" width="4.54" height="4.54" fill="#32c66d"/>
<rect x="339.16" y="94.30" width="4.54" height="4.54" fill="#30c471"/>
<rect x="244.50" y="98.25" width="4.54" height="4.54" fill="#283cd0"/>
<rect x="248.44" y="98.25" width="4.54" height="4.54" fill="#2848d0"/>
<rect x="252.39" y="98.25" width="4.54" height="4.54" fill="#285cca"/>
<rect x="256.33" y="98.25" width="4.54" height="4.54" fill="#2870b0"/>
<rect x="260.28" y="98.25" width="4.54" height="4.54" fill="#2a7da3"/>
<rect x="264.22" y="98.25" width="4.54" height="4.54" fill="#44ef3f"/>
<rect x="268.16" y="98.25" width="4.54" height="4.54" fill="#2a9781"/>
<rect x="272.11" y="98.25" width="4.54" height="4.54" fill="#2aa579"/>
<rect x="276.05" y="98.25" width="4.54" height="4.54" fill="#2eba74"/>
<rect x="280.00" y="98.25" width="4.54" height="4.54" fill="#2fc073"/>
<rect x="283.94" y="98.25" width="4.54" height="4.54" fill="#34c869"/>
<rect x="287.88" y="98.25" width="4.54" height="4.54" fill="#36d060"/>
<rect x="291.83" y="98.25" width="4.54" height="4.54" fill="#36d25e"/>
<rect x="295.77" y="98.25" width="4.54" height="4.54" fill="#3ee44c"/>
<rect x="299.72" y="98.25" width="4.54" height="4.54" fill="#40ed41"/>
<rect x="303.66" y="98.25" width="4.54" height="4.54" fill="#58f038"/>
<rect x="307.60" y="98.25" width="4.54" height="4.54" fill="#8af02e"/>
<rect x="311.55" y="98.25" width="4.54" height="4.54" fill="#eaf021"/>
<rect x="315.49" y="98.25" width="4.54" height="4.54" fill="#88f02e"/>
<rect x="319.44" y="98.25" width="4.54" height="4.54" fill="#57f038"/>
<rect x="323.38" y="98.25" width="4.54" height="4.54" fill="#42ef3f"/>
<rect x="327.32" y="98.25" width="4.54" height="4.54" fill="#3cdf51"/>
<rect x="331.27" y="98.25" width="4.54" height="4.54" fill="#38d957"/>
<rect x="335.21" y="98.25" width="4.54" height="4.54" fill="#36d060"/>
<rect x="339.16" y="98.25" width="4.54" height="4.54" fill="#33c76a"/>
<rect x="244.50" y="102.19" width="4.54" height="4.54" fill="#252ecd"/>
<rect x="248.44" y="102.19" width="4.54" height="4.54" fill="#2735cf"/>
<rect x="252.39" y="102.19" width="4.54" height="4.54" fill="#284dd0"/>
<rect x="256.33" y="102.19" width="4.54" height="4.54" fill="#285acb"/>
<rect x="260.28" y="102.19" width="4.54" height="4.54" fill="#286db4"/>
<rect x="264.22" y="102.19" width="4.54" height="4.54" fill="#2a80a0"/>
<rect x="268.16" y="102.19" width="4.54" height="4.54" fill="#45ef3f"/>
<rect x="272.11" y="102.19" width="4.54" height="4.54" fill="#2a9780"/>
<rect x="276.05" y="102.19" width="4.54" height="4.54" fill="#2aaa76"/>
<rect x="280.00" y="102.19" width="4.54" height="4.54" fill="#2eba74"/>
<rect x="283.94" y="102.19" width="4.54" height="4.54" fill="#2fc172"/>
<rect x="287.88" y="102.19" width="4.54" height="4.54" fill="#34c869"/>
<rect x="291.83" y="102.19" width="4.54" height="4.54" fill="#35cd63"/>
<rect x="295.77" y="102.19" width="4.54" height="4.54" fill="#37d25e"/>
<rect x="299.72" y="102.19" width="4.54" height="4.54" fill="#3ee44c"/>
<rect x="303.66" y="102.19" width="4.54" height="4.54" fill="#40eb43"/>
<rect x="307.60" y="102.19" width="4.54" height="4.54" fill="#54f039"/>
<rect x="311.55" y="102.19" width="4.54" height="4.54" fill="#89f02e"/>
<rect x="315.49" y="102.19" width="4.54" height="4.54" fill="#f0f020"/>
<rect x="319.44" y="102.19" width="4.54" height="4.54" fill="#85f02f"/>
<rect x="323.38" y="102.19" width="4.54" height="4.54" fill="#57f038"/>
<rect x="327.32" y="102.19" width="4.54" height="4.54" fill="#40ee40"/>
<rect x="331.27" y="102.19" width="4.54" height="4.54" fill="#3cdf51"/>
<rect x="335.21" y="102.19" width="4.54" height="4.54" fill="#37d35d"/>
<rect x="339.16" y="102.19" width="4.54" height="4.54" fill="#34c869"/>
<rect x="244.50" y="106.14" width="4.54" height="4.54" fill="#2123c9"/>
<rect x="248.44" y="106.14" width="4.54" height="4.54" fill="#2632ce"/>
<rect x="252.39" y="106.14" width="4.54" height="4.54" fill="#283dd0"/>
<rect x="256.33" y="106.14" width="4.54" height="4.54" fill="#2851d0"/>
<rect x="260.28" y="106.14" width="4.54" height="4.54" fill="#285acb"/>
<rect x="264.22" y="106.14" width="4.54" height="4.54" fill="#2868bc"/>
<rect x="268.16" y="106.14" width="4.54" height="4.54" fill="#2a7da3"/>
<rect x="272.11" y="106.14" width="4.54" height="4.54" fill="#46f03e"/>
<rect x="276.05" y="106.14" width="4.54" height="4.54" fill="#2a9681"/>
<rect x="280.00" y="106.14" width="4.54" height="4.54" fill="#2aa877"/>
<rect x="283.94" y="106.14" width="4.54" height="4.54" fill="#2cb275"/>
<rect x="287.88" y="106.14" width="4.54" height="4.54" fill="#31c56f"/>
<rect x="291.83" y="106.14" width="4.54" height="4.54" fill="#32c66d"/>
<rect x="295.77" y="106.14" width="4.54" height="4.54" fill="#34ca66"/>
<rect x="299.72" y="106.14" width="4.54" height="4.54" fill="#37d55b"/>
<rect x="303.66" y="106.14" width="4.54" height="4.54" fill="#3de14f"/>
<rect x="307.60" y="106.14" width="4.54" height="4.54" fill="#42ee40"/>
<rect x="311.55" y="106.14" width="4.54" height="4.54" fill="#54f039"/>
<rect x="315.49" y="106.14" width="4.54" height="4.54" fill="#8cf02d"/>
<rect x="319.44" y="106.14" width="4.54" height="4.54" fill="#e5f021"/>
<rect x="323.38" y="106.14" width="4.54" height="4.54" fill="#7ff030"/>
<rect x="327.32" y="106.14" width="4.54" height="4.54" fill="#52f03a"/>
<rect x="331.27" y="106.14" width="4.54" height="4.54" fill="#40eb43"/>
<rect x="335.21" y="106.14" width="4.54" height="4.54" fill="#3ee24e"/>
<rect x="339.16" y="106.14" width="4.54" height="4.54" fill="#38d858"/>
<rect x="244.50" y="110.08" width="4.54" height="4.54" fill="#2012ba"/>
<rect x="248.44" y="110.08" width="4.54" height="4.54" fill="#201cc4"/>
<rect x="252.39" y="110.08" width="4.54" height="4.54" fill="#242ccc"/>
<rect x="256.33" y="110.08" width="4.54" height="4.54" fill="#2840d0"/>
<rect x="260.28" y="110.08" width="4.54" height="4.54" fill="#2852cf"/>
<rect x="264.22" y="110.08" width="4.54" height="4.54" fill="#285ec9"/>
<rect x="268.16" y="110.08" width="4.54" height="4.54" fill="#286cb6"/>
<rect x="272.11" y="110.08" width="4.54" height="4.54" fill="#297aa6"/>
<rect x="276.05" y="110.08" width="4.54" height="4.54" fill="#44ef3f"/>
<rect x="280.00" y="110.08" width="4.54" height="4.54" fill="#2a9780"/>
<rect x="283.94" y="110.08" width="4.54" height="4.54" fill="#2aa877"/>
<rect x="287.88" y="110.08" width="4.54" height="4.54" fill="#2db874"/>
<rect x="291.83" y="110.08" width="4.54" height="4.54" fill="#2fc172"/>
<rect x="295.77" y="110.08" width="4.54" height="4.54" fill="#32c66e"/>
<rect x="299.72" y="110.08" width="4.54" height="4.54" fill="#36cf61"/>
<rect x="303.66" y="110.08" width="4.54" height="4.54" fill="#36d15f"/>
<rect x="307.60" y="110.08" width="4.54" height="4.54" fill="#3ee34d"/>
<rect x="311.55" y="110.08" width="4.54" height="4.54" fill="#43ef3f"/>
<rect x="315.49" y="110.08" width="4.54" height="4.54" fill="#5af037"/>
<rect x="319.44" y="110.08" width="4.54" height="4.54" fill="#81f030"/>
<rect x="323.38" y="110.08" width="4.54" height="4.54" fill="#f0f020"/>
<rect x="327.32" y="110.08" width="4.54" height="4.54" fill="#86f02f"/>
<rect x="331.27" y="110.08" width="4.54" height="4.54" fill="#57f038"/>
<rect x="335.21" y="110.08" width="4.54" height="4.54" fill="#43ef3f"/>
<rect x="339.16" y="110.08" width="4.54" height="4.54" fill="#3ee24e"/>
<rect x="244.50" y="114.02" width="4.54" height="4.54" fill="#200ca4"/>
<rect x="248.44" y="114.02" width="4.54" height="4.54" fill="#201ac2"/>
<rect x="252.39" y="114.02" width="4.54" height="4.54" fill="#201fc7"/>
<rect x="256.33" y="114.02" width="4.54" height="4.54" fill="#252fcd"/>
<rect x="260.28" y="114.02" width="4.54" height="4.54" fill="#2840d0"/>
<rect x="264.22" y="114.02" width="4.54" height="4.54" fill="#2845d0"/>
<rect x="268.16" y="114.02" width="4.54" height="4.54" fill="#285fc9"/>
<rect x="272.11" y="114.02" width="4.54" height="4.54" fill="#286db5"/>
<rect x="276.05" y="114.02" width="4.54" height="4.54" fill="#2a7ea2"/>
<rect x="280.00" y="114.02" width="4.54" height="4.54" fill="#44ef3f"/>
<rect x="283.94" y="114.02" width="4.54" height="4.54" fill="#2a9a7f"/>
<rect x="287.88" y="114.02" width="4.54" height="4.54" fill="#2aa479"/>
<rect x="291.83" y="114.02" width="4.54" height="4.54" fill="#2db874"/>
<rect x="295.77" y="114.02" width="4.54" height="4.54" fill="#2fbe73"/>
<rect x="299.72" y="114.02" width="4.54" height="4.54" fill="#33c76c"/>
<rect x="303.66" y="114.02" width="4.54" height="4.54" fill="#35cd63"/>
<rect x="307.60" y="114.02" width="4.54" height="4.54" fill="#37d65a"/>
<rect x="311.55" y="114.02" width="4.54" height="4.54" fill="#3de14f"/>
<rect x="315.49" y="114.02" width="4.54" height="4.54" fill="#43ef3f"/>
<rect x="319.44" y="114.02" width="4.54" height="4.54" fill="#59f037"/>
<rect x="323.38" y="114.02" width="4.54" height="4.54" fill="#7cf031"/>
<rect x="327.32" y="114.02" width="4.54" height="4.54" fill="#f0f020"/>
<rect x="331.27" y="114.02" width="4.54" height="4.54" fill="#87f02e"/>
<rect x="335.21" y="114.02" width="4.54" height="4.54" fill="#51f03a"/>
<rect x="339.16" y="114.02" width="4.54" height="4.54" fill="#40ed41"/>
<rect x="244.50" y="117.97" width="4.54" height="4.54" fill="#20047e"/>
<rect x="248.44" y="117.97" width="4.54" height="4.54" fill="#200b9e"/>
<rect x="252.39" y="117.97" width="4.54" height="4.54" fill="#2016be"/>
<rect x="256.33" y="117.97" width="4.54" height="4.54" fill="#2226ca"/>
<rect x="260.28" y="117.97" width="4.54" height="4.54" fill="#232acb"/>
<rect x="264.22" y="117.97" width="4.54" height="4.54" fill="#2842d0"/>
<rect x="268.16" y="117.97" width="4.54" height="4.54" fill="#2850d0"/>
<rect x="272.11" y="117.97" width="4.54" height="4.54" fill="#2857cc"/>
<rect x="276.05" y="117.97" width="4.54" height="4.54" fill="#286fb1"/>
<rect x="280.00" y="117.97" width="4.54" height="4.54" fill="#2a7fa1"/>
<rect x="283.94" y="117.97" width="4.54" height="4.54" fill="#47f03e"/>
<rect x="287.88" y="117.97" width="4.54" height="4.54" fill="#2a9e7d"/>
<rect x="291.83" y="117.97" width="4.54" height="4.54" fill="#2aab76"/>
<rect x="295.77" y="117.97" width="4.54" height="4.54" fill="#2cb474"/>
<rect x="299.72" y="117.97" width="4.54" height="4.54" fill="#31c56e"/>
<rect x="303.66" y="117.97" width="4.54" height="4.54" fill="#34c869"/>
<rect x="307.60" y="117.97" width="4.54" height="4.54" fill="#36cf61"/>
<rect x="311.55" y="117.97" width="4.54" height="4.54" fill="#37d65a"/>
<rect x="315.49" y="117.97" width="4.54" height="4.54" fill="#3ee24e"/>
<rect x="319.44" y="117.97" width="4.54" height="4.54" fill="#40ee40"/>
<rect x="323.38" y="117.97" width="4.54" height="4.54" fill="#52f03a"/>
<rect x="327.32" y="117.97" width="4.54" height="4.54" fill="#7af031"/>
<rect x="331.27" y="117.97" width="4.54" height="4.54" fill="#e4f021"/>
<rect x="335.21" y="117.97" width="4.54" height="4.54" fill="#7df031"/>
<rect x="339.16" y="117.97" width="4.54" height="4.54" fill="#52f03a"/>
<rect x="244.50" y="121.91" width="4.54" height="4.54" fill="#1f0063"/>
<rect x="248.44" y="121.91" width="4.54" height="4.54" fill="#20078a"/>
<rect x="252.39" y="121.91" width="4.54" height="4.54" fill="#200dab"/>
<rect x="256.33" y="121.91" width="4.54" height="4.54" fill="#2015bd"/>
<rect x="260.28" y="121.91" width="4.54" height="4.54" fill="#2021c8"/>
<rect x="264.22" y="121.91" width="4.54" height="4.54" fill="#232acb"/>
<rect x="268.16" y="121.91" width="4.54" height="4.54" fill="#283bd0"/>
<rect x="272.11" y="121.91" width="4.54" height="4.54" fill="#2851cf"/>
<rect x="276.05" y="121.91" width="4.54" height="4.54" fill="#285acb"/>
<rect x="280.00" y="121.91" width="4.54" height="4.54" fill="#2867bd"/>
<rect x="283.94" y="121.91" width="4.54" height="4.54" fill="#2a829c"/>
<rect x="287.88" y="121.91" width="4.54" height="4.54" fill="#45ef3f"/>
<rect x="291.83" y="121.91" width="4.54" height="4.54" fill="#2a997f"/>
<rect x="295.77" y="121.91" width="4.54" height="4.54" fill="#2aa678"/>
<rect x="299.72" y="121.91" width="4.54" height="4.54" fill="#2db874"/>
<rect x="303.66" y="121.91" width="4.54" height="4.54" fill="#31c570"/>
<rect x="307.60" y="121.91" width="4.54" height="4.54" fill="#32c66e"/>
<rect x="311.55" y="121.91" width="4.54" height="4.54" fill="#34c869"/>
<rect x="315.49" y="121.91" width="4.54" height="4.54" fill="#37d35d"/>
<rect x="319.44" y="121.91" width="4.54" height="4.54" fill="#3ee24d"/>
<rect x="323.38" y="121.91" width="4.54" height="4.54" fill="#40eb43"/>
<rect x="327.32" y="121.91" width="4.54" height="4.54" fill="#56f038"/>
<rect x="331.27" y="121.91" width="4.54" height="4.54" fill="#7df031"/>
<rect x="335.21" y="121.91" width="4.54" height="4.54" fill="#e8f021"/>
<rect x="339.16" y="121.91" width="4.54" height="4.54" fill="#7df031"/>
<rect x="244.50" y="125.86" width="4.54" height="4.54" fill="#1e0048"/>
<rect x="248.44" y="125.86" width="4.54" height="4.54" fill="#1f005a"/>
<rect x="252.39" y="125.86" width="4.54" height="4.54" fill="#200379"/>
<rect x="256.33" y="125.86" width="4.54" height="4.54" fill="#200b9f"/>
<rect x="260.28" y="125.86" width="4.54" height="4.54" fill="#2012ba"/>
<rect x="264.22" y="125.86" width="4.54" height="4.54" fill="#201fc7"/>
<rect x="268.16" y="125.86" width="4.54" height="4.54" fill="#2226ca"/>
<rect x="272.11" y="125.86" width="4.54" height="4.54" fill="#2734cf"/>
<rect x="276.05" y="125.86" width="4.54" height="4.54" fill="#284cd0"/>
<rect x="280.00" y="125.86" width="4.54" height="4.54" fill="#285acb"/>
<rect x="283.94" y="125.86" width="4.54" height="4.54" fill="#286db4"/>
<rect x="287.88" y="125.86" width="4.54" height="4.54" fill="#2979a7"/>
<rect x="291.83" y="125.86" width="4.54" height="4.54" fill="#44ef3f"/>
<rect x="295.77" y="125.86" width="4.54" height="4.54" fill="#2a9a7f"/>
<rect x="299.72" y="125.86" width="4.54" height="4.54" fill="#2aa27b"/>
<rect x="303.66" y="125.86" width="4.54" height="4.54" fill="#2fc073"/>
<rect x="307.60" y="125.86" width="4.54" height="4.54" fill="#2fc272"/>
<rect x="311.55" y="125.86" width="4.54" height="4.54" fill="#31c56f"/>
<rect x="315.49" y="125.86" width="4.54" height="4.54" fill="#35cb65"/>
<rect x="319.44" y="125.86" width="4.54" height="4.54" fill="#37d35d"/>
<rect x="323.38" y="125.86" width="4.54" height="4.54" fill="#3ee14f"/>
<rect x="327.32" y="125.86" width="4.54" height="4.54" fill="#40ed41"/>
<rect x="331.27" y="125.86" width="4.54" height="4.54" fill="#52f03a"/>
<rect x="335.21" y="125.86" width="4.54" height="4.54" fill="#7af031"/>
<rect x="339.16" y="125.86" width="4.54" height="4.54" fill="#f0f020"/>
</g>
<rect x="244.5" y="31.2" width="98.6" height="98.6" fill="none" stroke="#222" stroke-width="0.8"/>
<line x1="242.3" y1="32.6" x2="244.5" y2="32.6" stroke="#222" stroke-width="0.8"/>
<text x="240.2" y="35.0" font-size="9.6" text-anchor="end" fill="#1a1a1a" stroke="#1a1a1a" stroke-width="0.25" font-weight="normal" >60</text>
<line x1="245.0" y1="129.79999999999998" x2="245.0" y2="131.6" stroke="#222" stroke-width="0.8"/>
<text x="245.0" y="139.0" font-size="9.6" text-anchor="middle" fill="#1a1a1a" stroke="#1a1a1a" stroke-width="0.25" font-weight="normal" >60</text>
<line x1="242.3" y1="52.6" x2="244.5" y2="52.6" stroke="#222" stroke-width="0.8"/>
<text x="240.2" y="55.0" font-size="9.6" text-anchor="end" fill="#1a1a1a" stroke="#1a1a1a" stroke-width="0.25" font-weight="normal" >65</text>
<line x1="265.4" y1="129.79999999999998" x2="265.4" y2="131.6" stroke="#222" stroke-width="0.8"/>
<text x="265.4" y="139.0" font-size="9.6" text-anchor="middle" fill="#1a1a1a" stroke="#1a1a1a" stroke-width="0.25" font-weight="normal" >65</text>
<line x1="242.3" y1="72.6" x2="244.5" y2="72.6" stroke="#222" stroke-width="0.8"/>
<text x="240.2" y="75.0" font-size="9.6" text-anchor="end" fill="#1a1a1a" stroke="#1a1a1a" stroke-width="0.25" font-weight="normal" >70</text>
<line x1="285.8" y1="129.79999999999998" x2="285.8" y2="131.6" stroke="#222" stroke-width="0.8"/>
<text x="285.8" y="139.0" font-size="9.6" text-anchor="middle" fill="#1a1a1a" stroke="#1a1a1a" stroke-width="0.25" font-weight="normal" >70</text>
<line x1="242.3" y1="92.7" x2="244.5" y2="92.7" stroke="#222" stroke-width="0.8"/>
<text x="240.2" y="95.1" font-size="9.6" text-anchor="end" fill="#1a1a1a" stroke="#1a1a1a" stroke-width="0.25" font-weight="normal" >75</text>
<line x1="306.2" y1="129.79999999999998" x2="306.2" y2="131.6" stroke="#222" stroke-width="0.8"/>
<text x="306.2" y="139.0" font-size="9.6" text-anchor="middle" fill="#1a1a1a" stroke="#1a1a1a" stroke-width="0.25" font-weight="normal" >75</text>
<line x1="242.3" y1="112.7" x2="244.5" y2="112.7" stroke="#222" stroke-width="0.8"/>
<text x="240.2" y="115.1" font-size="9.6" text-anchor="end" fill="#1a1a1a" stroke="#1a1a1a" stroke-width="0.25" font-weight="normal" >80</text>
<line x1="326.6" y1="129.79999999999998" x2="326.6" y2="131.6" stroke="#222" stroke-width="0.8"/>
<text x="326.6" y="139.0" font-size="9.6" text-anchor="middle" fill="#1a1a1a" stroke="#1a1a1a" stroke-width="0.25" font-weight="normal" >80</text>
<polyline points="388.9,57.9 382.7,69.8 389.1,83.4 405.3,98.8 427.2,113.8 448.4,127.7 465.8,140 474.7,150.9 473.2,160.4 458.4,167.9 434.6,171.7 407.3,177.3 387.6,179.1 384.1,176.9 385.4,186.1 397.8,197 416.9,209.6 438.8,222.7 457.9,236.8 470.8,250 470.8,262.2 457.1,272.6 431.8,281.5 408.2,285.5 390.9,287.2" fill="none" stroke="#111" stroke-width="1.4" stroke-dasharray="2.2 1.75"/>
<circle cx="388.9" cy="57.9" r="5.9" fill="#1e0048"/>
<circle cx="382.7" cy="69.8" r="5.9" fill="#20006d"/>
<circle cx="389.1" cy="83.4" r="5.9" fill="#200890"/>
<circle cx="405.3" cy="98.8" r="5.9" fill="#2010b8"/>
<circle cx="427.2" cy="113.8" r="5.9" fill="#2020c8"/>
<circle cx="448.4" cy="127.7" r="5.9" fill="#2838d0"/>
<circle cx="465.8" cy="140" r="5.9" fill="#2850d0"/>
<circle cx="474.7" cy="150.9" r="5.9" fill="#2860c8"/>
<circle cx="473.2" cy="160.4" r="5.9" fill="#2870b0"/>
<circle cx="458.4" cy="167.9" r="5.9" fill="#2a80a0"/>
<circle cx="434.6" cy="171.7" r="5.9" fill="#2a8c88"/>
<circle cx="407.3" cy="177.3" r="5.9" fill="#2a9880"/>
<circle cx="384.1" cy="176.9" r="5.9" fill="#30c472"/>
<circle cx="385.4" cy="186.1" r="5.9" fill="#34c967"/>
<circle cx="387.6" cy="179.1" r="5.9" fill="#2aaa76"/>
<circle cx="397.8" cy="197" r="5.9" fill="#38d858"/>
<circle cx="416.9" cy="209.6" r="5.9" fill="#3ee24e"/>
<circle cx="438.8" cy="222.7" r="5.9" fill="#40ee40"/>
<circle cx="457.9" cy="236.8" r="5.9" fill="#48f03e"/>
<circle cx="470.8" cy="250" r="5.9" fill="#56f038"/>
<circle cx="470.8" cy="262.2" r="5.9" fill="#62f036"/>
<circle cx="457.1" cy="272.6" r="5.9" fill="#80f030"/>
<circle cx="431.8" cy="281.5" r="5.9" fill="#a0f028"/>
<circle cx="408.2" cy="285.5" r="5.9" fill="#c8f024"/>
<circle cx="390.9" cy="287.2" r="5.9" fill="#f0f020"/>
<text x="374.2" y="59.0" font-size="11.8" text-anchor="middle" fill="#1a1a1a" stroke="#1a1a1a" stroke-width="0.25" font-weight="normal" >60</text>
<text x="367.8" y="72.6" font-size="11.8" text-anchor="middle" fill="#1a1a1a" stroke="#1a1a1a" stroke-width="0.25" font-weight="normal" >61</text>
<text x="372.8" y="88.8" font-size="11.8" text-anchor="middle" fill="#1a1a1a" stroke="#1a1a1a" stroke-width="0.25" font-weight="normal" >62</text>
<text x="389.6" y="104.9" font-size="11.8" text-anchor="middle" fill="#1a1a1a" stroke="#1a1a1a" stroke-width="0.25" font-weight="normal" >63</text>
<text x="410.3" y="120.6" font-size="11.8" text-anchor="middle" fill="#1a1a1a" stroke="#1a1a1a" stroke-width="0.25" font-weight="normal" >64</text>
<text x="433.0" y="133.9" font-size="11.8" text-anchor="middle" fill="#1a1a1a" stroke="#1a1a1a" stroke-width="0.25" font-weight="normal" >65</text>
<text x="451.2" y="145.8" font-size="11.8" text-anchor="middle" fill="#1a1a1a" stroke="#1a1a1a" stroke-width="0.25" font-weight="normal" >66</text>
<text x="488.9" y="154.5" font-size="11.8" text-anchor="middle" fill="#1a1a1a" stroke="#1a1a1a" stroke-width="0.25" font-weight="normal" >67</text>
<text x="488.1" y="164.9" font-size="11.8" text-anchor="middle" fill="#1a1a1a" stroke="#1a1a1a" stroke-width="0.25" font-weight="normal" >68</text>
<text x="459.1" y="159.5" font-size="11.8" text-anchor="middle" fill="#1a1a1a" stroke="#1a1a1a" stroke-width="0.25" font-weight="normal" >69</text>
<text x="435.0" y="164.4" font-size="11.8" text-anchor="middle" fill="#1a1a1a" stroke="#1a1a1a" stroke-width="0.25" font-weight="normal" >70</text>
<text x="407.7" y="169.6" font-size="11.8" text-anchor="middle" fill="#1a1a1a" stroke="#1a1a1a" stroke-width="0.25" font-weight="normal" >71</text>
<text x="392.4" y="187.1" font-size="11.8" text-anchor="middle" fill="#1a1a1a" stroke="#1a1a1a" stroke-width="0.25" font-weight="normal" >72</text>
<text x="385.0" y="170.1" font-size="11.8" text-anchor="middle" fill="#1a1a1a" stroke="#1a1a1a" stroke-width="0.25" font-weight="normal" >73</text>
<text x="371.8" y="190.6" font-size="11.8" text-anchor="middle" fill="#1a1a1a" stroke="#1a1a1a" stroke-width="0.25" font-weight="normal" >74</text>
<text x="383.6" y="202.9" font-size="11.8" text-anchor="middle" fill="#1a1a1a" stroke="#1a1a1a" stroke-width="0.25" font-weight="normal" >75</text>
<text x="402.0" y="214.1" font-size="11.8" text-anchor="middle" fill="#1a1a1a" stroke="#1a1a1a" stroke-width="0.25" font-weight="normal" >76</text>
<text x="423.9" y="227.6" font-size="11.8" text-anchor="middle" fill="#1a1a1a" stroke="#1a1a1a" stroke-width="0.25" font-weight="normal" >77</text>
<text x="444.2" y="240.9" font-size="11.8" text-anchor="middle" fill="#1a1a1a" stroke="#1a1a1a" stroke-width="0.25" font-weight="normal" >78</text>
<text x="484.4" y="253.4" font-size="11.8" text-anchor="middle" fill="#1a1a1a" stroke="#1a1a1a" stroke-width="0.25" font-weight="normal" >79</text>
<text x="485.2" y="266.3" font-size="11.8" text-anchor="middle" fill="#1a1a1a" stroke="#1a1a1a" stroke-width="0.25" font-weight="normal" >80</text>
<text x="458.4" y="265.3" font-size="11.8" text-anchor="middle" fill="#1a1a1a" stroke="#1a1a1a" stroke-width="0.25" font-weight="normal" >81</text>
<text x="434.3" y="274.4" font-size="11.8" text-anchor="middle" fill="#1a1a1a" stroke="#1a1a1a" stroke-width="0.25" font-weight="normal" >82</text>
<text x="410.0" y="278.1" font-size="11.8" text-anchor="middle" fill="#1a1a1a" stroke="#1a1a1a" stroke-width="0.25" font-weight="normal" >83</text>
<text x="392.6" y="280.7" font-size="11.8" text-anchor="middle" fill="#1a1a1a" stroke="#1a1a1a" stroke-width="0.25" font-weight="normal" >84</text>
<path d="M631.8,156.7 C633.4,153.2 640.6,143.5 641.7,135.9 C642.8,128.3 642.0,118.7 638.6,111.2 C635.2,103.7 628.6,96.5 621.5,90.7 C614.4,84.9 604.9,78.4 595.9,76.4 C586.9,74.5 576.2,75.7 567.4,79.0 C558.6,82.3 549.2,89.3 543.2,96.4 C537.2,103.5 532.3,112.6 531.3,121.7 C530.3,130.8 532.7,141.7 537.0,151.0 C541.3,160.3 548.6,170.7 556.9,177.5 C565.2,184.3 576.0,189.3 586.8,191.7 C597.6,194.1 611.2,194.3 621.8,191.7 C632.4,189.0 644.3,183.3 650.3,175.8 C656.3,168.3 656.3,156.5 657.9,146.7 C659.5,136.9 661.9,126.9 659.9,116.9 C657.9,107.0 653.7,96.0 646.0,87.0 C638.3,78.0 625.9,67.5 613.8,62.8 C601.6,58.1 586.6,57.0 573.1,58.8 C559.6,60.5 543.5,64.7 532.7,73.3 C521.9,81.9 512.4,96.8 508.5,110.6 C504.6,124.4 504.3,141.1 509.1,156.1 C513.9,171.1 524.5,190.7 537.5,200.3 C550.5,209.9 570.5,211.5 586.8,213.6 C603.1,215.7 620.4,216.8 635.2,212.8 C650.0,208.8 668.9,193.3 675.6,189.4" fill="none" stroke="#111" stroke-width="1.4" stroke-dasharray="2.2 1.75"/>
<circle cx="631.8" cy="156.7" r="5.9" fill="#1e0048"/>
<circle cx="641.7" cy="135.9" r="5.9" fill="#20006d"/>
<circle cx="638.6" cy="111.2" r="5.9" fill="#200890"/>
<circle cx="621.5" cy="90.7" r="5.9" fill="#2010b8"/>
<circle cx="595.9" cy="76.4" r="5.9" fill="#2020c8"/>
<circle cx="567.4" cy="79" r="5.9" fill="#2838d0"/>
<circle cx="543.2" cy="96.4" r="5.9" fill="#2850d0"/>
<circle cx="531.3" cy="121.7" r="5.9" fill="#2860c8"/>
<circle cx="537" cy="151" r="5.9" fill="#2870b0"/>
<circle cx="556.9" cy="177.5" r="5.9" fill="#2a80a0"/>
<circle cx="586.8" cy="191.7" r="5.9" fill="#2a8c88"/>
<circle cx="621.8" cy="191.7" r="5.9" fill="#2a9880"/>
<circle cx="650.3" cy="175.8" r="5.9" fill="#2aaa76"/>
<circle cx="657.9" cy="146.7" r="5.9" fill="#30c472"/>
<circle cx="659.9" cy="116.9" r="5.9" fill="#34c967"/>
<circle cx="646" cy="87" r="5.9" fill="#38d858"/>
<circle cx="613.8" cy="62.8" r="5.9" fill="#3ee24e"/>
<circle cx="573.1" cy="58.8" r="5.9" fill="#40ee40"/>
<circle cx="532.7" cy="73.3" r="5.9" fill="#48f03e"/>
<circle cx="508.5" cy="110.6" r="5.9" fill="#56f038"/>
<circle cx="509.1" cy="156.1" r="5.9" fill="#62f036"/>
<circle cx="537.5" cy="200.3" r="5.9" fill="#80f030"/>
<circle cx="586.8" cy="213.6" r="5.9" fill="#a0f028"/>
<circle cx="635.2" cy="212.8" r="5.9" fill="#c8f024"/>
<circle cx="675.6" cy="189.4" r="5.9" fill="#f0f020"/>
<text x="618.7" y="155.1" font-size="11.8" text-anchor="middle" fill="#1a1a1a" stroke="#1a1a1a" stroke-width="0.25" font-weight="normal" >60</text>
<text x="626.6" y="138.1" font-size="11.8" text-anchor="middle" fill="#1a1a1a" stroke="#1a1a1a" stroke-width="0.25" font-weight="normal" >61</text>
<text x="623.8" y="118.7" font-size="11.8" text-anchor="middle" fill="#1a1a1a" stroke="#1a1a1a" stroke-width="0.25" font-weight="normal" >62</text>
<text x="612.4" y="105.3" font-size="11.8" text-anchor="middle" fill="#1a1a1a" stroke="#1a1a1a" stroke-width="0.25" font-weight="normal" >63</text>
<text x="595.9" y="96.2" font-size="11.8" text-anchor="middle" fill="#1a1a1a" stroke="#1a1a1a" stroke-width="0.25" font-weight="normal" >64</text>
<text x="574.0" y="96.2" font-size="11.8" text-anchor="middle" fill="#1a1a1a" stroke="#1a1a1a" stroke-width="0.25" font-weight="normal" >65</text>
<text x="556.0" y="106.7" font-size="11.8" text-anchor="middle" fill="#1a1a1a" stroke="#1a1a1a" stroke-width="0.25" font-weight="normal" >66</text>
<text x="548.4" y="126.6" font-size="11.8" text-anchor="middle" fill="#1a1a1a" stroke="#1a1a1a" stroke-width="0.25" font-weight="normal" >67</text>
<text x="553.2" y="152.3" font-size="11.8" text-anchor="middle" fill="#1a1a1a" stroke="#1a1a1a" stroke-width="0.25" font-weight="normal" >68</text>
<text x="570.3" y="172.8" font-size="11.8" text-anchor="middle" fill="#1a1a1a" stroke="#1a1a1a" stroke-width="0.25" font-weight="normal" >69</text>
<text x="587.4" y="184.4" font-size="11.8" text-anchor="middle" fill="#1a1a1a" stroke="#1a1a1a" stroke-width="0.25" font-weight="normal" >70</text>
<text x="622.4" y="184.1" font-size="11.8" text-anchor="middle" fill="#1a1a1a" stroke="#1a1a1a" stroke-width="0.25" font-weight="normal" >71</text>
<text x="637.2" y="175.6" font-size="11.8" text-anchor="middle" fill="#1a1a1a" stroke="#1a1a1a" stroke-width="0.25" font-weight="normal" >72</text>
<text x="648.0" y="160.2" font-size="11.8" text-anchor="middle" fill="#1a1a1a" stroke="#1a1a1a" stroke-width="0.25" font-weight="normal" >73</text>
<text x="651.4" y="131.5" font-size="11.8" text-anchor="middle" fill="#1a1a1a" stroke="#1a1a1a" stroke-width="0.25" font-weight="normal" >74</text>
<text x="644.6" y="103.3" font-size="11.8" text-anchor="middle" fill="#1a1a1a" stroke="#1a1a1a" stroke-width="0.25" font-weight="normal" >75</text>
<text x="620.9" y="80.3" font-size="11.8" text-anchor="middle" fill="#1a1a1a" stroke="#1a1a1a" stroke-width="0.25" font-weight="normal" >76</text>
<text x="585.4" y="71.7" font-size="11.8" text-anchor="middle" fill="#1a1a1a" stroke="#1a1a1a" stroke-width="0.25" font-weight="normal" >77</text>
<text x="546.9" y="81.1" font-size="11.8" text-anchor="middle" fill="#1a1a1a" stroke="#1a1a1a" stroke-width="0.25" font-weight="normal" >78</text>
<text x="521.9" y="116.1" font-size="11.8" text-anchor="middle" fill="#1a1a1a" stroke="#1a1a1a" stroke-width="0.25" font-weight="normal" >79</text>
<text x="519.3" y="151.7" font-size="11.8" text-anchor="middle" fill="#1a1a1a" stroke="#1a1a1a" stroke-width="0.25" font-weight="normal" >80</text>
<text x="542.7" y="191.6" font-size="11.8" text-anchor="middle" fill="#1a1a1a" stroke="#1a1a1a" stroke-width="0.25" font-weight="normal" >81</text>
<text x="588.2" y="206.9" font-size="11.8" text-anchor="middle" fill="#1a1a1a" stroke="#1a1a1a" stroke-width="0.25" font-weight="normal" >82</text>
<text x="636.6" y="205.8" font-size="11.8" text-anchor="middle" fill="#1a1a1a" stroke="#1a1a1a" stroke-width="0.25" font-weight="normal" >83</text>
<text x="676.5" y="182.7" font-size="11.8" text-anchor="middle" fill="#1a1a1a" stroke="#1a1a1a" stroke-width="0.25" font-weight="normal" >84</text>
<defs><linearGradient id="cb" x1="0" x2="1" y1="0" y2="0"><stop offset="0.000" stop-color="#f0f020"/><stop offset="0.050" stop-color="#c0f025"/><stop offset="0.100" stop-color="#93f02b"/><stop offset="0.150" stop-color="#6ef034"/><stop offset="0.200" stop-color="#59f038"/><stop offset="0.250" stop-color="#48f03e"/><stop offset="0.300" stop-color="#40ec43"/><stop offset="0.350" stop-color="#3cde52"/><stop offset="0.400" stop-color="#36cf61"/><stop offset="0.450" stop-color="#31c570"/><stop offset="0.500" stop-color="#2aaa76"/><stop offset="0.550" stop-color="#2a9682"/><stop offset="0.600" stop-color="#2a8792"/><stop offset="0.650" stop-color="#2976aa"/><stop offset="0.700" stop-color="#2863c3"/><stop offset="0.750" stop-color="#2850d0"/><stop offset="0.800" stop-color="#2633ce"/><stop offset="0.850" stop-color="#201ac2"/><stop offset="0.900" stop-color="#200ba0"/><stop offset="0.950" stop-color="#200274"/><stop offset="1.000" stop-color="#1e0048"/></linearGradient></defs>
<rect x="542.8" y="280.8" width="125.3" height="17.7" fill="url(#cb)"/>
<text x="551.2" y="275.6" font-size="11.5" text-anchor="middle" fill="#1a1a1a" stroke="#1a1a1a" stroke-width="0.25" font-weight="normal" >80</text>
<text x="605.7" y="275.6" font-size="11.5" text-anchor="middle" fill="#1a1a1a" stroke="#1a1a1a" stroke-width="0.25" font-weight="normal" >70</text>
<text x="660.5" y="275.6" font-size="11.5" text-anchor="middle" fill="#1a1a1a" stroke="#1a1a1a" stroke-width="0.25" font-weight="normal" >60</text>
<text x="519.6" y="295.3" font-size="12.8" text-anchor="middle" fill="#1a1a1a" stroke="#1a1a1a" stroke-width="0.25" font-weight="normal" >Pitch</text>
<text x="-0.3" y="344.0" font-size="17.2" text-anchor="start" fill="#000" stroke="#000" stroke-width="0.2" font-weight="bold" >b</text>
<text x="34.4" y="339.4" font-size="13.5" text-anchor="middle" fill="#e05fdf" font-weight="bold" >ð</text>
<text x="33.0" y="349.2" font-size="13" text-anchor="middle" fill="#e05fdf" font-weight="bold" >ʒ</text>
<text x="41.9" y="345.6" font-size="16.5" text-anchor="middle" fill="#e05fdf" font-weight="bold" >ʃ</text>
<text x="49.4" y="346.2" font-size="15.2" text-anchor="start" fill="#e05fdf" font-weight="bold"  textLength="124.6" lengthAdjust="spacingAndGlyphs">Vocal Consonants</text>
<line x1="31.5" y1="360.5" x2="316" y2="360.5" stroke="#333" stroke-width="1"/>
<line x1="316" y1="360.5" x2="316" y2="643.5" stroke="#aaa" stroke-width="1.6"/>
<line x1="31.5" y1="360.5" x2="31.5" y2="643.5" stroke="#333" stroke-width="1"/>
<line x1="31.5" y1="643.5" x2="316" y2="643.5" stroke="#333" stroke-width="1"/>
<line x1="28.6" y1="637.3" x2="31.5" y2="637.3" stroke="#333" stroke-width="1"/>
<text x="23.0" y="641.9" font-size="12.5" text-anchor="end" fill="#1a1a1a" stroke="#1a1a1a" stroke-width="0.25" font-weight="normal" >-0.6</text>
<line x1="60.5" y1="643.5" x2="60.5" y2="646" stroke="#333" stroke-width="1"/>
<text x="57.5" y="659.0" font-size="12.5" text-anchor="middle" fill="#1a1a1a" stroke="#1a1a1a" stroke-width="0.25" font-weight="normal" >-0.6</text>
<line x1="28.6" y1="592.7" x2="31.5" y2="592.7" stroke="#333" stroke-width="1"/>
<text x="23.0" y="597.3" font-size="12.5" text-anchor="end" fill="#1a1a1a" stroke="#1a1a1a" stroke-width="0.25" font-weight="normal" >-0.4</text>
<line x1="102.7" y1="643.5" x2="102.7" y2="646" stroke="#333" stroke-width="1"/>
<text x="99.7" y="659.0" font-size="12.5" text-anchor="middle" fill="#1a1a1a" stroke="#1a1a1a" stroke-width="0.25" font-weight="normal" >-0.4</text>
<line x1="28.6" y1="548.1" x2="31.5" y2="548.1" stroke="#333" stroke-width="1"/>
<text x="23.0" y="552.7" font-size="12.5" text-anchor="end" fill="#1a1a1a" stroke="#1a1a1a" stroke-width="0.25" font-weight="normal" >-0.2</text>
<line x1="144.9" y1="643.5" x2="144.9" y2="646" stroke="#333" stroke-width="1"/>
<text x="141.9" y="659.0" font-size="12.5" text-anchor="middle" fill="#1a1a1a" stroke="#1a1a1a" stroke-width="0.25" font-weight="normal" >-0.2</text>
<line x1="28.6" y1="503.5" x2="31.5" y2="503.5" stroke="#333" stroke-width="1"/>
<text x="23.0" y="508.1" font-size="12.5" text-anchor="end" fill="#1a1a1a" stroke="#1a1a1a" stroke-width="0.25" font-weight="normal" >0</text>
<line x1="187.1" y1="643.5" x2="187.1" y2="646" stroke="#333" stroke-width="1"/>
<text x="187.1" y="659.0" font-size="12.5" text-anchor="middle" fill="#1a1a1a" stroke="#1a1a1a" stroke-width="0.25" font-weight="normal" >0</text>
<line x1="28.6" y1="458.9" x2="31.5" y2="458.9" stroke="#333" stroke-width="1"/>
<text x="23.0" y="463.5" font-size="12.5" text-anchor="end" fill="#1a1a1a" stroke="#1a1a1a" stroke-width="0.25" font-weight="normal" >0.2</text>
<line x1="229.3" y1="643.5" x2="229.3" y2="646" stroke="#333" stroke-width="1"/>
<text x="229.3" y="659.0" font-size="12.5" text-anchor="middle" fill="#1a1a1a" stroke="#1a1a1a" stroke-width="0.25" font-weight="normal" >0.2</text>
<line x1="28.6" y1="414.3" x2="31.5" y2="414.3" stroke="#333" stroke-width="1"/>
<text x="23.0" y="418.9" font-size="12.5" text-anchor="end" fill="#1a1a1a" stroke="#1a1a1a" stroke-width="0.25" font-weight="normal" >0.4</text>
<line x1="271.5" y1="643.5" x2="271.5" y2="646" stroke="#333" stroke-width="1"/>
<text x="271.5" y="659.0" font-size="12.5" text-anchor="middle" fill="#1a1a1a" stroke="#1a1a1a" stroke-width="0.25" font-weight="normal" >0.4</text>
<line x1="28.6" y1="369.7" x2="31.5" y2="369.7" stroke="#333" stroke-width="1"/>
<text x="23.0" y="374.3" font-size="12.5" text-anchor="end" fill="#1a1a1a" stroke="#1a1a1a" stroke-width="0.25" font-weight="normal" >0.6</text>
<line x1="313.7" y1="643.5" x2="313.7" y2="646" stroke="#333" stroke-width="1"/>
<text x="313.7" y="659.0" font-size="12.5" text-anchor="middle" fill="#1a1a1a" stroke="#1a1a1a" stroke-width="0.25" font-weight="normal" >0.6</text>
<circle cx="40.6" cy="371.3" r="3.24" fill="#6cbfea"/>
<text x="49.6" y="375.7" font-size="13" text-anchor="start" fill="#1a1a1a" stroke="#1a1a1a" stroke-width="0.25" font-weight="normal" >Bilabial</text>
<path d="M40.6,388.34 L43.62,393.96 L37.58,393.96 Z" fill="#5cd96a"/>
<text x="49.6" y="396.2" font-size="13" text-anchor="start" fill="#1a1a1a" stroke="#1a1a1a" stroke-width="0.25" font-weight="normal" >Dental</text>
<path d="M41.2,408.20 L45.30,412.3 L41.2,416.40 L37.10,412.3 Z" fill="#5df2c7"/>
<text x="49.6" y="416.7" font-size="13" text-anchor="start" fill="#1a1a1a" stroke="#1a1a1a" stroke-width="0.25" font-weight="normal" >Velar</text>
<rect x="37.47" y="429.67" width="6.26" height="6.26" fill="#f59a6a"/>
<text x="49.6" y="437.2" font-size="13" text-anchor="start" fill="#1a1a1a" stroke="#1a1a1a" stroke-width="0.25" font-weight="normal" >Alveolar</text>
<circle cx="40.6" cy="453.3" r="3.24" fill="#a08cf0"/>
<text x="49.6" y="457.7" font-size="13" text-anchor="start" fill="#1a1a1a" stroke="#1a1a1a" stroke-width="0.25" font-weight="normal" >Postalveolar</text>
<path d="M40.6,477.26 L43.62,471.64 L37.58,471.64 Z" fill="#e0508a"/>
<text x="49.6" y="478.2" font-size="13" text-anchor="start" fill="#1a1a1a" stroke="#1a1a1a" stroke-width="0.25" font-weight="normal" >Labiodental</text>
<path d="M160.1,370.20 L162.90,375.40 L157.30,375.40 Z" fill="#5cd96a"/>
<path d="M119.5,408.40 L122.30,403.20 L116.70,403.20 Z" fill="#e0508a"/>
<path d="M182.1,427.60 L184.90,432.80 L179.30,432.80 Z" fill="#5cd96a"/>
<rect x="236.90" y="409.10" width="5.80" height="5.80" fill="#f59a6a"/>
<circle cx="302.3" cy="436.6" r="3.00" fill="#a08cf0"/>
<path d="M150.0,464.40 L152.80,459.20 L147.20,459.20 Z" fill="#e0508a"/>
<rect x="229.80" y="464.00" width="5.80" height="5.80" fill="#f59a6a"/>
<circle cx="259.7" cy="475.5" r="3.00" fill="#a08cf0"/>
<circle cx="44.1" cy="507.3" r="3.00" fill="#6cbfea"/>
<rect x="77.90" y="524.00" width="5.80" height="5.80" fill="#f59a6a"/>
<rect x="193.00" y="549.90" width="5.80" height="5.80" fill="#f59a6a"/>
<rect x="215.90" y="542.00" width="5.80" height="5.80" fill="#f59a6a"/>
<circle cx="152.0" cy="589.7" r="3.00" fill="#6cbfea"/>
<circle cx="126.1" cy="614.0" r="3.00" fill="#6cbfea"/>
<path d="M226.4,597.70 L230.20,601.5 L226.4,605.30 L222.60,601.5 Z" fill="#5df2c7"/>
<path d="M277.5,626.30 L281.30,630.1 L277.5,633.90 L273.70,630.1 Z" fill="#5df2c7"/>
<text x="165.4" y="373.1" font-size="17.2" text-anchor="middle" fill="#3ccc28" stroke="#3ccc28" stroke-width="0.15" font-weight="normal" >θ</text>
<text x="122.8" y="406.1" font-size="17.2" text-anchor="middle" fill="#e81c40" stroke="#e81c40" stroke-width="0.15" font-weight="normal" >f</text>
<text x="187.5" y="431.0" font-size="17.2" text-anchor="middle" fill="#3ccc28" stroke="#3ccc28" stroke-width="0.15" font-weight="normal" >ð</text>
<text x="244.3" y="411.7" font-size="17.2" text-anchor="middle" fill="#f26a2a" stroke="#f26a2a" stroke-width="0.15" font-weight="normal" >s</text>
<text x="305.4" y="436.2" font-size="17.2" text-anchor="middle" fill="#6f5ff0" stroke="#6f5ff0" stroke-width="0.15" font-weight="normal" >ʃ</text>
<text x="154.7" y="461.6" font-size="17.2" text-anchor="middle" fill="#e81c40" stroke="#e81c40" stroke-width="0.15" font-weight="normal" >v</text>
<text x="237.2" y="467.2" font-size="17.2" text-anchor="middle" fill="#f26a2a" stroke="#f26a2a" stroke-width="0.15" font-weight="normal" >z</text>
<text x="264.3" y="475.6" font-size="17.2" text-anchor="middle" fill="#6f5ff0" stroke="#6f5ff0" stroke-width="0.15" font-weight="normal" >ʒ</text>
<text x="52.5" y="507.8" font-size="17.2" text-anchor="middle" fill="#2f86e8" stroke="#2f86e8" stroke-width="0.15" font-weight="normal" >m</text>
<text x="86.0" y="527.0" font-size="17.2" text-anchor="middle" fill="#f26a2a" stroke="#f26a2a" stroke-width="0.15" font-weight="normal" >n</text>
<text x="201.1" y="553.0" font-size="17.2" text-anchor="middle" fill="#f26a2a" stroke="#f26a2a" stroke-width="0.15" font-weight="normal" >d</text>
<text x="222.1" y="545.0" font-size="17.2" text-anchor="middle" fill="#f26a2a" stroke="#f26a2a" stroke-width="0.15" font-weight="normal" >t</text>
<text x="157.5" y="590.3" font-size="17.2" text-anchor="middle" fill="#2f86e8" stroke="#2f86e8" stroke-width="0.15" font-weight="normal" >b</text>
<text x="132.0" y="613.6" font-size="17.2" text-anchor="middle" fill="#2f86e8" stroke="#2f86e8" stroke-width="0.15" font-weight="normal" >p</text>
<text x="232.1" y="601.2" font-size="17.2" text-anchor="middle" fill="#40e6b0" stroke="#40e6b0" stroke-width="0.15" font-weight="normal" >g</text>
<text x="282.8" y="630.9" font-size="17.2" text-anchor="middle" fill="#40e6b0" stroke="#40e6b0" stroke-width="0.15" font-weight="normal" >k</text>
<circle cx="403.3" cy="335.8" r="6.4" fill="#a6f2fa"/>
<circle cx="414.3" cy="335.8" r="6.5" fill="#7fe4f7" opacity="0.75"/>
<circle cx="409" cy="344.8" r="6.6" fill="#62d2f6" opacity="0.7"/>
<text x="428.1" y="342.8" font-size="15.2" text-anchor="start" fill="#4fd6f5" font-weight="bold"  textLength="44" lengthAdjust="spacingAndGlyphs">Colors</text>
<line x1="399.5" y1="361.5" x2="684.4" y2="361.5" stroke="#444" stroke-width="1"/>
<line x1="684.4" y1="361.5" x2="684.4" y2="644.5" stroke="#aaa" stroke-width="1.6"/>
<line x1="399.5" y1="361.5" x2="399.5" y2="644.5" stroke="#333" stroke-width="1"/>
<line x1="399.5" y1="644.5" x2="685" y2="644.5" stroke="#333" stroke-width="1"/>
<line x1="397" y1="619.2" x2="399.5" y2="619.2" stroke="#333" stroke-width="1"/>
<text x="389.0" y="625.0" font-size="13.6" text-anchor="end" fill="#1a1a1a" stroke="#1a1a1a" stroke-width="0.05" font-weight="normal" >-0.4</text>
<line x1="397" y1="567.7" x2="399.5" y2="567.7" stroke="#333" stroke-width="1"/>
<text x="389.0" y="573.5" font-size="13.6" text-anchor="end" fill="#1a1a1a" stroke="#1a1a1a" stroke-width="0.05" font-weight="normal" >-0.2</text>
<line x1="397" y1="516.2" x2="399.5" y2="516.2" stroke="#333" stroke-width="1"/>
<text x="389.0" y="522.0" font-size="13.6" text-anchor="end" fill="#1a1a1a" stroke="#1a1a1a" stroke-width="0.05" font-weight="normal" >0</text>
<line x1="397" y1="464.7" x2="399.5" y2="464.7" stroke="#333" stroke-width="1"/>
<text x="389.0" y="470.5" font-size="13.6" text-anchor="end" fill="#1a1a1a" stroke="#1a1a1a" stroke-width="0.05" font-weight="normal" >0.2</text>
<line x1="397" y1="413.2" x2="399.5" y2="413.2" stroke="#333" stroke-width="1"/>
<text x="389.0" y="419.0" font-size="13.6" text-anchor="end" fill="#1a1a1a" stroke="#1a1a1a" stroke-width="0.05" font-weight="normal" >0.4</text>
<line x1="397" y1="361.7" x2="399.5" y2="361.7" stroke="#333" stroke-width="1"/>
<text x="389.0" y="367.5" font-size="13.6" text-anchor="end" fill="#1a1a1a" stroke="#1a1a1a" stroke-width="0.05" font-weight="normal" >0.6</text>
<line x1="403.1" y1="644.5" x2="403.1" y2="647" stroke="#999" stroke-width="1"/>
<text x="399.9" y="671.2" font-size="13.6" text-anchor="middle" fill="#1a1a1a" stroke="#1a1a1a" stroke-width="0.05" font-weight="normal" >-0.6</text>
<line x1="451.8" y1="644.5" x2="451.8" y2="647" stroke="#999" stroke-width="1"/>
<text x="448.6" y="671.2" font-size="13.6" text-anchor="middle" fill="#1a1a1a" stroke="#1a1a1a" stroke-width="0.05" font-weight="normal" >-0.4</text>
<line x1="502.0" y1="644.5" x2="502.0" y2="647" stroke="#999" stroke-width="1"/>
<text x="498.8" y="671.2" font-size="13.6" text-anchor="middle" fill="#1a1a1a" stroke="#1a1a1a" stroke-width="0.05" font-weight="normal" >-0.2</text>
<line x1="552.2" y1="644.5" x2="552.2" y2="647" stroke="#999" stroke-width="1"/>
<text x="552.2" y="671.2" font-size="13.6" text-anchor="middle" fill="#1a1a1a" stroke="#1a1a1a" stroke-width="0.05" font-weight="normal" >0</text>
<line x1="602.4" y1="644.5" x2="602.4" y2="647" stroke="#999" stroke-width="1"/>
<text x="602.4" y="671.2" font-size="13.6" text-anchor="middle" fill="#1a1a1a" stroke="#1a1a1a" stroke-width="0.05" font-weight="normal" >0.2</text>
<line x1="652.6" y1="644.5" x2="652.6" y2="647" stroke="#999" stroke-width="1"/>
<text x="652.6" y="671.2" font-size="13.6" text-anchor="middle" fill="#1a1a1a" stroke="#1a1a1a" stroke-width="0.05" font-weight="normal" >0.4</text>
<circle cx="481.2" cy="373.9" r="4.8" fill="#5a00f0"/>
<circle cx="437.7" cy="426" r="4.8" fill="#1030f0"/>
<circle cx="420.4" cy="452.4" r="4.8" fill="#0838f0"/>
<circle cx="419.6" cy="497.5" r="4.8" fill="#1048f0"/>
<circle cx="412" cy="504.2" r="4.8" fill="#1040e0"/>
<circle cx="438.7" cy="531.9" r="4.8" fill="#3a80e8"/>
<circle cx="457.8" cy="548" r="4.8" fill="#40b8f0"/>
<circle cx="431.6" cy="557" r="4.8" fill="#48d0f8"/>
<circle cx="453.8" cy="585.2" r="4.8" fill="#80f0c8"/>
<circle cx="507.7" cy="631.1" r="4.8" fill="#66f060"/>
<circle cx="531.8" cy="630.6" r="4.8" fill="#66f060"/>
<circle cx="598.3" cy="614.9" r="4.8" fill="#58ec40"/>
<circle cx="599.8" cy="583.2" r="4.8" fill="#60e840"/>
<circle cx="614.4" cy="582.2" r="4.8" fill="#70f040"/>
<circle cx="618.4" cy="586.7" r="4.8" fill="#70f040"/>
<circle cx="648.2" cy="547" r="4.8" fill="#d0f040"/>
<circle cx="665.3" cy="518.6" r="4.8" fill="#e8f018"/>
<circle cx="660.4" cy="494.4" r="4.8" fill="#ffa818"/>
<circle cx="662.2" cy="476" r="4.8" fill="#ff8010"/>
<circle cx="654.4" cy="422" r="4.8" fill="#ff4818"/>
<circle cx="654" cy="430.5" r="4.8" fill="#ff4020"/>
<circle cx="671.8" cy="436.9" r="4.8" fill="#ff0818"/>
<circle cx="671.8" cy="440.8" r="4.8" fill="#ff0020"/>
</svg>
</body></html>
